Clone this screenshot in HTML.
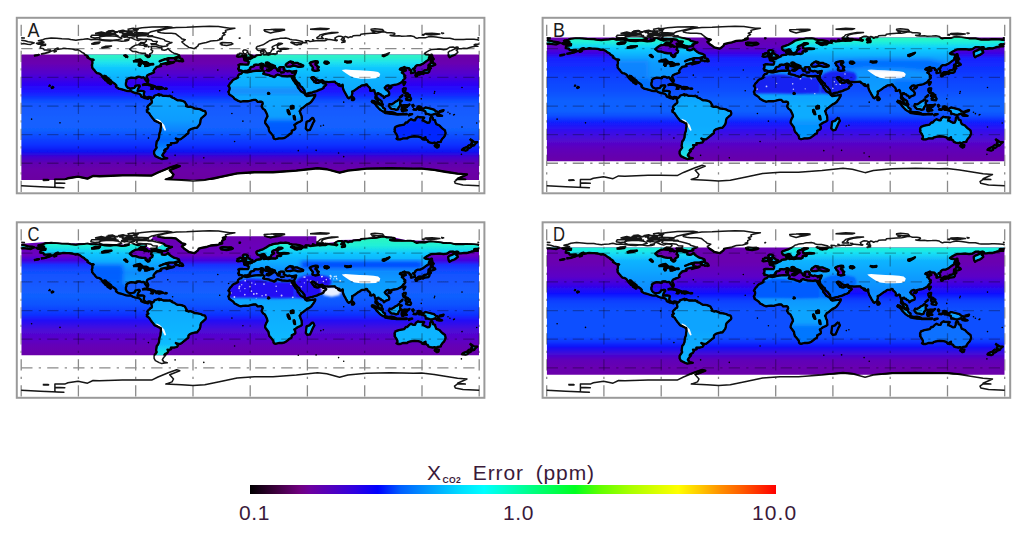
<!DOCTYPE html>
<html><head><meta charset="utf-8"><style>
html,body{margin:0;padding:0;background:#fff;width:1024px;height:539px;overflow:hidden}
svg{position:absolute;left:0;top:0}
.cb{position:absolute;left:250px;top:485px;width:526px;height:8.6px;background:linear-gradient(to right,#000000 0.0%,#3c003c 4.9%,#700080 9.5%,#6c00a0 11.5%,#5000c0 15.7%,#3000e0 19.8%,#0000ff 24.3%,#0060ff 28.7%,#00a0ff 34.4%,#00e0ff 40.3%,#00ffff 44.5%,#00ffc0 49.2%,#00ff80 53.8%,#00ff20 61.8%,#60ff00 66.5%,#a8ff00 72.2%,#e0ff00 78.0%,#ffff00 81.4%,#ffc800 85.6%,#ff9000 89.4%,#ff6000 93.2%,#ff3000 96.6%,#ff0000 100.0%)}
.t{position:absolute;font-family:"Liberation Sans",sans-serif;color:#3a1a3a;font-size:21px;line-height:1}
</style></head><body>
<svg width="1024" height="539" viewBox="0 0 1024 539"><defs><path id="land" d="M19.7,33.9 L24.2,32.9 L28.0,31.7 L29.3,29.9 L26.7,30.0 L22.9,30.0 L22.3,28.6 L19.1,28.0 L19.1,27.2 L19.7,25.8 L24.2,25.2 L24.4,24.1 L21.6,24.3 L17.2,24.3 L15.3,23.3 L19.7,22.4 L21.6,22.7 L22.9,22.1 L20.4,21.2 L17.2,20.7 L21.6,19.7 L24.2,18.6 L29.9,17.9 L35.6,18.3 L40.7,18.8 L47.1,19.0 L49.6,19.5 L54.7,20.1 L57.9,19.6 L62.3,19.3 L66.2,18.6 L70.0,19.6 L75.1,19.3 L80.1,20.1 L84.0,20.7 L89.1,21.0 L94.1,20.2 L100.5,21.2 L104.3,21.0 L106.9,20.5 L108.8,17.4 L110.7,18.1 L113.9,19.6 L117.0,20.5 L120.2,19.3 L124.7,19.6 L125.3,21.0 L123.4,22.6 L119.6,22.4 L117.0,24.8 L113.9,25.3 L110.7,27.2 L108.6,29.1 L109.4,29.9 L111.3,31.4 L114.5,31.5 L117.7,32.7 L120.9,33.2 L124.3,33.3 L124.4,35.3 L126.6,37.0 L127.9,36.8 L128.7,35.8 L128.5,33.9 L131.0,32.5 L131.5,30.6 L129.8,29.6 L130.4,28.2 L129.8,26.5 L134.9,26.5 L138.0,27.5 L140.6,27.7 L140.6,29.8 L143.1,30.3 L145.0,29.8 L146.9,28.4 L148.2,30.1 L150.8,32.0 L152.7,33.1 L155.8,33.9 L157.8,34.9 L158.1,36.1 L156.5,36.8 L152.7,38.0 L147.6,38.0 L144.4,39.0 L141.2,40.1 L138.4,41.3 L139.9,40.6 L143.8,39.1 L147.2,39.3 L146.3,40.1 L146.9,41.5 L150.1,42.2 L151.4,42.4 L152.7,41.8 L152.9,42.1 L151.4,42.8 L148.2,43.5 L145.4,44.4 L144.8,43.5 L146.9,42.7 L143.8,43.3 L141.2,43.9 L139.7,44.2 L139.1,45.3 L139.9,46.0 L138.0,46.4 L135.5,46.9 L134.9,47.3 L134.7,48.0 L133.6,48.8 L132.6,50.3 L132.3,50.7 L132.9,52.2 L131.7,52.9 L129.9,53.6 L128.2,54.2 L126.2,55.2 L125.4,56.8 L126.5,58.9 L127.1,60.4 L126.7,61.9 L125.8,61.9 L124.9,60.6 L123.8,59.2 L123.4,58.1 L122.1,57.2 L120.4,57.6 L119.0,56.9 L117.0,56.7 L115.3,57.0 L115.3,58.1 L114.2,58.2 L112.6,57.8 L110.0,57.6 L108.4,58.0 L106.2,59.0 L105.2,60.0 L105.3,61.3 L104.7,63.0 L104.7,64.9 L105.6,66.7 L106.5,67.6 L108.8,68.6 L111.6,68.2 L113.2,67.8 L114.0,66.7 L114.1,65.9 L116.4,65.4 L118.3,65.4 L118.6,66.3 L117.7,67.5 L117.0,68.5 L116.7,69.4 L116.3,70.9 L117.7,70.9 L120.2,70.8 L122.1,71.0 L123.2,71.6 L122.8,73.1 L122.5,75.0 L123.0,75.9 L124.7,77.2 L125.9,77.5 L127.7,76.8 L129.1,77.0 L130.5,77.6 L129.8,78.3 L129.3,77.9 L127.9,77.5 L126.7,78.8 L125.1,78.2 L123.4,78.0 L120.0,76.5 L119.8,75.3 L118.2,73.7 L116.4,73.3 L113.2,72.7 L111.7,72.1 L109.5,70.8 L107.5,71.0 L105.0,70.7 L102.4,69.9 L99.7,69.1 L97.3,68.5 L95.0,66.9 L94.7,66.3 L95.2,65.4 L94.1,64.2 L91.9,62.6 L89.8,61.3 L89.9,60.6 L88.3,59.4 L87.1,58.5 L85.7,57.5 L84.6,56.1 L83.1,55.7 L82.9,56.8 L84.6,58.3 L85.5,59.2 L86.8,60.6 L87.8,62.1 L88.7,62.8 L89.7,63.8 L89.1,64.1 L87.1,62.6 L86.3,62.3 L86.1,61.1 L84.0,60.1 L83.6,59.3 L82.7,58.6 L81.4,57.0 L80.7,55.9 L79.9,54.7 L78.4,53.7 L77.4,53.3 L75.6,53.0 L73.9,51.1 L73.2,50.0 L72.5,49.5 L71.5,48.2 L70.9,47.5 L71.0,45.8 L70.6,45.1 L71.2,43.5 L71.2,41.8 L71.1,41.1 L70.4,39.7 L72.5,39.9 L71.9,39.5 L69.3,39.2 L68.1,38.4 L66.2,37.4 L66.8,36.8 L66.2,36.0 L63.6,34.4 L63.0,33.4 L61.1,32.5 L59.2,31.0 L56.6,29.6 L54.1,29.9 L51.1,28.9 L47.7,28.6 L45.2,28.5 L42.6,28.2 L40.7,28.6 L38.8,28.9 L35.9,29.4 L36.9,28.0 L35.0,28.5 L33.7,29.4 L32.8,30.4 L30.3,31.1 L27.4,32.4 L25.4,32.9 L22.9,33.4 L19.7,33.9 Z M130.7,77.7 L131.4,78.0 L132.8,76.9 L133.2,75.7 L134.6,75.2 L136.1,74.8 L137.7,74.1 L138.4,74.7 L138.0,75.5 L139.9,74.6 L140.2,75.1 L142.2,75.9 L144.8,75.8 L147.2,76.0 L148.8,75.7 L149.5,76.4 L151.4,77.7 L152.7,78.0 L154.6,79.3 L156.2,80.2 L158.4,80.3 L160.3,80.5 L162.2,81.2 L163.7,82.0 L164.9,84.2 L165.5,85.0 L164.9,86.0 L167.3,86.9 L169.2,86.5 L172.4,87.7 L173.0,88.4 L176.2,88.7 L179.4,89.4 L181.3,90.5 L183.8,91.0 L184.5,92.6 L184.6,93.8 L184.1,94.8 L182.6,96.0 L181.3,97.2 L180.0,98.4 L179.4,99.8 L179.1,102.4 L178.5,104.3 L177.2,106.0 L175.7,107.8 L173.7,107.9 L172.1,108.3 L169.8,109.0 L167.9,110.1 L167.2,111.3 L167.2,113.2 L165.6,114.1 L164.1,115.6 L162.2,117.1 L160.9,118.1 L159.2,119.3 L157.5,119.3 L155.5,118.9 L154.6,118.4 L156.1,119.9 L156.9,120.8 L155.7,122.4 L152.9,123.0 L149.7,123.0 L149.9,124.6 L147.8,125.2 L146.3,125.1 L147.2,126.4 L146.1,128.4 L143.8,129.5 L143.0,130.5 L144.3,130.9 L142.7,132.7 L141.7,134.1 L141.1,135.2 L142.0,135.9 L141.7,136.2 L143.1,137.5 L146.1,138.2 L143.5,138.5 L140.6,139.0 L138.0,138.0 L134.2,136.1 L132.9,133.7 L132.9,131.3 L134.2,129.4 L135.5,127.5 L134.9,125.9 L135.2,123.7 L135.5,121.5 L136.8,119.9 L137.8,117.5 L138.0,115.1 L138.3,113.2 L139.2,110.8 L139.4,108.4 L139.8,106.4 L139.6,103.5 L138.2,102.9 L136.1,101.8 L133.3,100.6 L132.1,98.9 L130.8,97.4 L129.1,95.0 L127.9,93.1 L125.7,91.7 L126.1,90.7 L125.6,90.1 L127.2,89.0 L126.5,88.1 L126.1,86.9 L127.2,85.5 L128.5,84.7 L128.7,84.0 L130.3,83.1 L130.7,82.1 L130.4,80.2 L129.9,79.1 L130.7,77.7 Z M221.5,51.8 L220.2,53.5 L218.2,54.1 L216.9,55.4 L216.5,56.9 L216.8,57.4 L215.0,58.5 L212.7,59.4 L211.2,60.6 L210.2,62.1 L208.8,63.3 L208.0,64.9 L207.2,66.0 L208.3,67.2 L208.5,68.6 L208.0,70.5 L207.1,71.8 L207.8,73.0 L207.8,74.1 L209.3,75.2 L210.3,75.8 L212.1,77.1 L213.4,78.9 L215.0,79.6 L217.2,80.9 L219.5,81.7 L221.6,81.2 L224.5,81.1 L227.1,81.2 L230.3,80.3 L232.4,79.9 L234.7,79.9 L236.5,81.8 L237.9,81.7 L239.8,81.5 L241.2,82.3 L241.5,83.8 L240.8,85.0 L240.4,86.4 L241.7,88.6 L243.6,89.8 L244.6,91.7 L245.8,94.2 L246.3,96.3 L244.9,98.8 L244.0,101.2 L243.9,102.8 L245.3,104.7 L247.3,107.4 L247.6,109.5 L248.3,111.7 L249.9,113.3 L251.3,115.1 L252.2,116.3 L252.3,117.9 L252.9,118.7 L254.4,119.2 L257.6,118.4 L260.8,118.4 L262.7,118.1 L264.6,117.1 L266.5,115.8 L268.4,114.1 L270.2,113.2 L270.7,111.3 L270.5,110.7 L273.5,109.3 L274.2,108.4 L274.0,106.5 L273.1,104.9 L274.5,104.0 L276.3,102.7 L279.3,101.4 L280.7,100.3 L280.5,97.9 L280.4,96.0 L279.3,93.6 L279.0,92.2 L278.4,91.2 L279.4,90.0 L280.1,88.5 L281.8,87.6 L283.7,86.0 L285.6,84.5 L288.2,83.3 L290.1,81.7 L291.7,79.5 L293.2,77.2 L294.0,75.9 L294.1,74.7 L292.6,75.0 L290.7,75.3 L287.5,75.7 L285.6,76.0 L284.3,75.1 L284.0,74.7 L283.1,73.1 L281.4,72.1 L279.6,71.1 L278.9,70.2 L278.0,68.8 L276.6,67.3 L276.3,65.9 L275.8,64.9 L274.3,63.5 L273.5,62.1 L272.3,60.5 L271.6,59.4 L270.5,57.4 L271.6,58.7 L272.6,59.3 L273.4,57.8 L272.6,56.1 L270.3,56.2 L268.4,55.8 L266.5,56.3 L263.3,56.0 L260.8,55.8 L258.5,55.2 L256.4,54.5 L254.4,55.4 L254.4,56.3 L253.2,57.0 L251.3,56.3 L248.7,55.6 L248.1,55.0 L245.5,54.5 L243.6,54.2 L242.0,53.7 L243.0,52.0 L242.4,50.8 L241.5,50.3 L239.8,50.7 L237.3,50.5 L234.7,50.7 L232.2,51.0 L229.6,51.6 L227.5,52.1 L226.2,52.4 L224.4,52.2 L222.4,51.8 L221.5,51.8 Z M221.9,51.6 L221.0,50.8 L219.5,50.4 L217.7,50.6 L217.8,49.2 L216.9,48.9 L217.7,47.6 L217.8,45.8 L217.2,44.9 L218.8,44.2 L222.0,44.4 L224.5,44.5 L226.7,44.5 L227.3,43.5 L227.5,41.8 L226.2,41.0 L225.2,40.6 L223.3,40.2 L223.0,39.6 L225.2,39.3 L227.0,39.4 L226.6,38.5 L227.5,38.8 L229.3,38.7 L230.9,38.0 L231.3,37.3 L232.8,37.0 L234.1,36.4 L235.0,35.3 L237.3,34.9 L239.2,34.8 L240.1,34.4 L239.9,33.0 L239.3,32.0 L239.9,31.4 L242.4,30.8 L242.1,32.2 L242.9,32.1 L241.7,33.2 L241.6,33.6 L242.7,34.4 L244.9,34.0 L247.1,34.5 L250.0,33.9 L252.7,33.7 L254.2,34.0 L256.0,33.2 L255.8,31.7 L257.0,31.0 L258.9,31.5 L260.0,31.0 L259.5,30.2 L258.9,29.4 L262.7,29.1 L264.6,29.1 L267.4,28.7 L265.9,28.5 L262.7,28.3 L258.3,28.7 L256.2,28.0 L256.4,26.9 L256.0,25.8 L257.6,25.0 L260.2,24.0 L261.3,23.6 L259.8,23.1 L257.4,23.1 L256.1,24.3 L254.4,25.1 L252.7,25.8 L251.3,26.5 L250.9,27.4 L251.1,28.1 L252.9,28.6 L252.2,29.3 L250.4,30.1 L250.0,31.3 L249.2,32.4 L247.1,33.0 L245.4,33.0 L245.0,32.3 L244.1,31.0 L243.2,29.7 L242.2,29.4 L241.1,29.7 L239.2,30.5 L237.3,30.5 L236.1,29.8 L235.4,28.6 L235.2,27.2 L236.1,26.5 L237.9,26.0 L239.8,25.3 L241.7,24.7 L243.0,24.0 L244.9,22.9 L246.8,21.7 L248.1,20.7 L250.0,20.2 L251.9,19.5 L254.4,19.1 L257.0,18.8 L259.5,18.1 L262.1,18.2 L264.6,18.0 L267.8,18.6 L268.4,19.3 L271.0,19.8 L274.8,20.0 L278.0,20.6 L281.2,21.4 L281.2,22.5 L279.3,22.9 L277.3,22.8 L273.5,22.6 L271.6,22.3 L270.7,22.0 L269.7,22.4 L272.9,23.9 L273.5,24.5 L275.8,25.0 L277.3,24.3 L279.9,24.4 L280.5,23.7 L282.4,22.4 L285.0,22.8 L285.2,21.3 L284.3,20.7 L287.5,20.8 L288.8,21.4 L292.6,21.0 L297.1,20.4 L298.3,20.8 L301.5,20.5 L304.1,20.6 L305.3,20.1 L306.0,19.3 L310.4,19.8 L313.0,20.1 L315.5,20.7 L316.1,20.1 L314.0,19.6 L314.2,18.6 L313.6,18.0 L316.1,16.6 L317.4,16.2 L320.0,16.3 L321.6,17.0 L321.2,18.1 L320.0,19.6 L321.2,20.2 L322.5,20.9 L321.9,22.0 L320.6,22.4 L323.8,22.0 L323.8,20.5 L322.5,19.6 L323.1,18.6 L321.9,17.7 L324.2,16.4 L325.7,16.9 L327.0,17.7 L328.9,16.8 L330.8,17.0 L332.0,15.7 L335.9,15.5 L339.0,15.4 L339.7,14.2 L343.5,13.8 L349.9,13.3 L354.9,13.1 L357.5,12.6 L361.7,11.7 L363.9,12.0 L365.8,12.7 L370.2,12.7 L373.4,13.2 L373.7,14.0 L371.5,15.3 L368.9,15.3 L370.2,15.7 L373.4,15.9 L377.8,15.7 L380.4,16.1 L385.5,16.0 L389.3,15.8 L392.5,16.4 L393.8,17.4 L395.7,18.3 L397.6,17.7 L400.8,17.6 L403.9,17.8 L407.1,16.8 L409.7,16.5 L414.7,16.9 L419.8,17.6 L422.4,18.2 L428.7,18.1 L432.6,19.1 L434.5,19.5 L437.6,19.4 L442.1,19.5 L445.3,19.1 L447.8,19.2 L452.9,19.3 L456.1,19.7 L458.0,20.2 L458.0,23.9 L456.1,24.3 L454.2,24.2 L452.9,24.8 L456.7,26.3 L454.2,26.3 L450.4,26.9 L447.8,27.7 L445.9,28.4 L442.7,28.2 L440.2,28.7 L438.3,28.8 L436.8,28.8 L435.1,30.4 L436.1,30.8 L436.6,32.3 L435.1,33.6 L433.2,34.9 L430.6,35.8 L428.4,37.2 L427.5,35.8 L427.2,33.9 L427.0,32.2 L428.5,31.0 L430.0,30.6 L432.6,29.3 L434.8,28.4 L437.0,27.2 L435.7,27.0 L433.2,27.6 L431.9,27.0 L428.7,27.1 L425.6,29.1 L422.4,29.6 L418.6,29.0 L414.1,29.2 L410.3,29.4 L407.7,30.6 L405.2,32.0 L403.3,33.4 L404.6,34.2 L407.1,34.4 L408.9,35.1 L408.6,36.1 L407.7,37.7 L407.5,39.6 L405.2,41.1 L402.0,43.5 L398.8,45.1 L396.3,45.1 L395.2,45.6 L394.0,46.8 L393.9,47.8 L391.8,48.7 L392.5,49.4 L393.6,50.6 L393.6,52.0 L392.5,52.5 L389.9,53.1 L389.7,52.0 L390.2,50.7 L389.7,49.9 L388.3,49.9 L388.4,48.9 L387.6,48.0 L384.8,47.8 L383.4,48.7 L384.0,47.6 L383.3,46.9 L381.0,47.9 L379.1,48.6 L378.6,49.3 L380.0,49.9 L380.6,50.5 L382.6,49.9 L384.7,50.4 L382.7,51.2 L380.6,52.6 L382.0,53.2 L382.8,54.8 L384.1,55.7 L383.2,56.6 L384.2,57.5 L383.4,58.7 L382.0,60.0 L381.0,61.5 L379.9,62.5 L378.1,63.4 L376.5,64.2 L374.3,64.7 L373.0,64.9 L371.1,65.3 L369.6,65.8 L369.2,66.6 L368.6,65.9 L367.0,65.3 L365.1,65.9 L364.5,66.6 L363.5,67.8 L364.6,69.3 L366.1,70.4 L367.4,71.6 L368.1,73.1 L367.9,74.9 L366.4,75.6 L364.7,76.1 L362.7,77.7 L362.3,76.6 L361.7,75.9 L360.0,75.3 L359.5,74.3 L357.4,73.8 L357.4,73.1 L356.2,73.2 L355.2,75.4 L355.3,77.1 L356.5,78.0 L356.9,79.1 L357.9,79.4 L359.0,80.0 L360.5,81.3 L360.5,82.7 L361.2,83.7 L361.7,84.6 L360.7,84.7 L359.0,83.8 L357.9,83.2 L357.0,81.9 L356.5,80.7 L355.8,79.6 L354.3,78.3 L354.2,77.1 L354.6,75.8 L354.3,74.4 L353.9,73.0 L353.4,71.7 L353.2,70.6 L352.4,69.9 L350.4,70.9 L349.0,70.7 L349.2,69.2 L348.6,67.8 L347.7,66.9 L346.4,65.9 L345.9,64.5 L344.8,64.3 L343.9,65.0 L342.2,65.2 L341.0,65.3 L339.6,65.9 L339.0,66.7 L337.1,67.5 L335.1,69.0 L333.6,70.1 L332.4,70.9 L330.9,71.5 L331.2,73.2 L330.7,75.0 L330.5,76.1 L329.5,77.1 L328.5,77.5 L327.6,78.2 L326.5,77.5 L325.7,75.9 L324.9,74.7 L323.9,72.7 L322.9,71.1 L322.1,69.2 L321.6,67.5 L321.6,65.9 L321.4,64.7 L319.6,66.1 L318.1,65.7 L316.8,64.7 L318.3,64.2 L316.5,63.7 L314.7,63.1 L313.7,61.7 L310.4,61.8 L307.2,62.0 L303.4,61.5 L301.9,61.2 L301.3,60.1 L299.6,60.4 L297.7,60.5 L295.7,59.6 L294.3,58.7 L292.7,57.2 L291.2,57.0 L290.1,57.7 L291.1,59.2 L292.0,60.3 L292.7,61.0 L293.2,62.1 L293.9,61.0 L294.6,61.8 L294.6,62.7 L296.9,62.9 L299.0,62.1 L300.4,61.0 L300.8,62.2 L302.0,63.2 L303.7,63.4 L305.1,64.5 L303.9,65.8 L302.5,66.7 L302.4,67.9 L300.6,68.9 L299.4,69.4 L298.0,69.8 L295.4,71.1 L292.1,71.9 L291.0,72.6 L289.9,72.6 L287.0,73.2 L285.5,73.8 L284.3,73.9 L284.0,73.2 L283.5,71.8 L283.2,70.2 L282.1,69.0 L281.0,67.3 L279.6,66.5 L278.7,65.5 L278.0,63.4 L276.7,62.7 L275.4,61.2 L274.3,59.8 L273.3,59.1 L273.4,57.8 L272.9,55.9 L273.5,54.6 L274.2,53.5 L274.7,52.1 L275.1,50.9 L274.2,51.0 L272.3,51.4 L270.3,51.5 L267.9,50.9 L266.5,51.4 L264.1,50.6 L262.5,49.5 L263.1,48.4 L262.3,47.8 L262.8,47.5 L262.1,47.0 L259.5,47.0 L258.3,47.4 L257.8,47.8 L258.6,48.5 L258.1,49.5 L258.5,49.9 L258.0,51.1 L256.6,50.8 L256.0,50.0 L256.1,49.3 L255.3,48.7 L254.7,48.1 L253.7,47.4 L253.8,46.0 L252.5,45.4 L251.3,44.9 L249.4,44.4 L248.3,43.7 L247.4,42.8 L246.4,42.4 L244.8,42.6 L244.6,43.4 L245.0,43.8 L246.3,44.4 L246.9,45.4 L248.2,45.9 L249.4,46.4 L251.3,46.9 L252.5,47.7 L252.3,47.9 L250.8,47.3 L250.5,47.4 L250.0,48.1 L250.8,48.8 L249.5,49.8 L249.0,49.5 L249.2,48.9 L249.4,48.0 L248.7,47.6 L248.0,47.6 L247.2,47.0 L246.3,46.6 L245.0,46.3 L243.2,45.5 L242.4,45.0 L242.0,44.0 L240.3,43.5 L238.9,44.1 L237.3,44.8 L234.9,44.5 L233.1,44.8 L233.1,45.9 L231.7,46.6 L230.0,46.8 L229.0,47.8 L228.6,48.4 L229.1,49.0 L228.1,50.0 L227.2,50.1 L226.3,50.9 L223.4,50.9 L222.6,51.3 L221.9,51.6 Z M373.4,107.0 L374.3,106.8 L377.5,105.6 L380.4,105.0 L382.9,104.6 L384.6,102.4 L386.1,102.5 L388.0,100.3 L389.9,99.1 L392.2,100.3 L393.9,100.2 L394.6,98.3 L396.7,96.7 L398.2,97.2 L401.8,97.4 L403.0,97.6 L401.9,98.8 L401.4,100.3 L403.3,101.1 L406.2,102.7 L408.1,102.6 L409.0,100.3 L409.1,98.0 L410.3,96.2 L411.6,97.9 L411.9,99.6 L413.9,100.2 L414.1,101.7 L415.1,104.1 L418.3,105.4 L419.8,107.1 L421.1,108.4 L423.8,110.4 L424.4,113.2 L423.6,115.6 L422.8,117.0 L421.1,118.7 L419.8,120.8 L419.7,121.8 L416.7,122.2 L415.1,123.3 L413.2,122.5 L411.6,123.0 L409.0,122.5 L407.1,121.8 L406.5,120.3 L405.2,119.9 L404.6,118.9 L403.9,119.4 L403.0,119.6 L404.3,118.2 L404.3,117.1 L402.0,118.4 L401.4,119.3 L399.7,117.3 L396.9,116.5 L393.1,116.2 L389.3,116.8 L386.8,117.5 L386.1,118.4 L381.7,118.4 L379.1,119.4 L376.6,119.4 L375.3,118.7 L376.2,117.8 L376.2,116.2 L375.2,114.1 L374.3,112.9 L373.3,111.3 L373.8,110.3 L373.3,109.3 L373.8,107.9 L373.4,107.0 Z M221.7,38.1 L225.2,37.5 L229.0,37.4 L230.8,37.0 L231.2,35.6 L229.4,35.0 L228.7,34.4 L227.5,33.8 L227.0,32.9 L225.7,32.2 L226.7,31.0 L224.8,30.0 L222.6,30.0 L221.6,31.0 L221.9,32.1 L222.4,32.9 L222.9,33.6 L224.9,33.6 L224.7,34.2 L225.2,35.0 L223.1,35.0 L223.7,36.0 L222.4,36.5 L224.9,36.9 L223.3,37.1 L221.7,38.1 Z M221.4,36.3 L221.1,35.0 L221.4,33.9 L219.7,33.1 L218.2,33.3 L218.2,34.1 L216.3,34.2 L216.5,35.3 L215.8,36.3 L216.9,36.7 L218.8,36.5 L221.1,36.1 L221.4,36.3 Z M198.5,23.4 L201.0,22.5 L206.1,22.8 L209.9,22.7 L211.7,23.8 L210.6,24.4 L205.5,25.4 L201.6,25.0 L200.1,24.7 L201.0,24.2 L198.5,23.4 Z M291.7,97.4 L293.2,100.8 L292.0,102.7 L290.1,107.0 L288.8,109.8 L286.2,110.3 L284.6,108.4 L285.0,105.0 L285.4,101.7 L288.2,100.8 L290.1,98.8 L291.7,97.4 Z M395.5,53.5 L397.6,52.0 L401.4,52.0 L403.0,50.4 L405.2,50.1 L406.9,49.2 L407.1,47.8 L407.4,46.5 L409.0,46.5 L409.1,47.8 L409.7,48.2 L408.4,49.4 L408.3,50.6 L408.0,51.6 L407.1,52.5 L405.8,52.7 L403.3,52.9 L401.8,54.0 L400.8,53.0 L398.8,53.2 L396.9,53.6 L395.5,53.5 Z M393.9,54.2 L395.4,53.5 L396.7,54.2 L396.0,56.0 L394.6,56.2 L393.9,54.2 Z M397.3,53.6 L399.5,53.2 L400.4,53.7 L398.2,54.6 L397.3,53.6 Z M407.1,46.3 L408.4,46.0 L411.2,45.8 L414.1,44.6 L413.5,43.6 L409.7,42.5 L409.1,43.5 L408.9,44.7 L407.5,44.7 L407.1,46.3 Z M409.7,42.0 L411.6,41.5 L410.9,39.2 L412.6,39.2 L411.3,37.2 L410.9,35.3 L410.7,34.1 L409.9,34.1 L409.3,35.8 L409.5,38.2 L409.7,40.1 L409.5,41.4 L409.7,42.0 Z M381.8,64.0 L382.9,62.1 L384.2,62.1 L383.6,63.5 L382.7,64.9 L381.8,64.0 Z M367.2,67.6 L369.3,66.8 L370.2,67.2 L368.9,68.5 L367.3,68.3 L367.2,67.6 Z M330.5,78.3 L331.0,76.6 L332.4,77.7 L333.1,79.0 L332.3,80.0 L330.8,80.0 L330.5,78.3 Z M381.7,68.3 L384.5,68.3 L384.2,70.2 L383.7,71.1 L384.2,72.6 L386.8,73.5 L385.5,73.5 L382.9,72.8 L382.3,72.1 L381.7,70.7 L381.7,68.3 Z M384.2,79.3 L386.1,77.8 L388.7,76.6 L389.9,78.8 L389.3,80.2 L386.8,80.0 L384.2,79.3 Z M384.2,74.7 L386.1,74.0 L388.7,75.0 L388.0,76.4 L385.5,76.9 L384.2,75.9 L384.2,74.7 Z M378.1,77.9 L381.0,75.9 L381.3,75.1 L379.8,76.4 L378.1,77.9 Z M350.2,80.6 L353.0,81.0 L356.6,83.6 L358.1,84.3 L361.1,86.0 L361.9,87.7 L363.9,88.9 L363.6,91.5 L361.9,91.6 L359.1,89.8 L357.2,87.9 L355.2,85.8 L354.3,84.3 L352.7,82.9 L351.0,82.1 L350.2,80.6 Z M362.8,92.4 L363.9,91.6 L367.0,92.2 L370.2,92.1 L372.4,92.5 L374.7,93.4 L374.5,94.3 L370.2,93.9 L367.0,93.4 L364.5,93.0 L362.8,92.4 Z M367.7,84.5 L368.4,84.0 L370.2,84.4 L372.8,82.9 L374.4,81.6 L375.9,81.0 L377.6,79.4 L378.7,80.3 L380.6,80.9 L379.0,81.9 L379.0,84.2 L380.4,85.1 L378.5,85.9 L377.3,87.4 L376.8,89.3 L374.8,89.8 L372.8,89.0 L370.2,88.8 L369.1,87.9 L367.8,86.3 L367.7,84.5 Z M380.1,88.6 L380.9,91.2 L382.2,91.3 L382.4,88.8 L383.6,90.5 L385.7,90.2 L384.2,88.8 L383.3,87.8 L385.2,86.7 L385.9,86.9 L383.6,86.7 L382.3,85.5 L383.6,85.0 L386.8,85.1 L388.3,84.4 L387.1,85.7 L381.7,85.4 L381.4,86.7 L380.1,88.6 Z M395.7,86.9 L397.6,86.3 L399.5,86.8 L401.4,89.1 L404.3,87.4 L408.4,88.4 L412.8,89.6 L414.7,91.2 L416.7,91.8 L417.0,93.6 L418.9,95.0 L420.9,95.8 L418.6,95.9 L416.0,95.6 L414.5,93.6 L411.6,94.5 L410.3,94.8 L408.4,94.6 L405.8,93.7 L404.6,94.0 L404.1,91.2 L401.3,90.2 L398.8,89.6 L398.0,89.8 L396.9,88.6 L398.8,88.2 L396.0,87.4 L395.7,86.9 Z M386.8,95.6 L388.3,94.2 L391.0,94.0 L388.0,95.1 L386.8,95.6 Z M374.7,93.8 L376.6,94.0 L380.4,94.0 L385.5,93.9 L385.2,94.4 L380.4,94.4 L376.6,94.5 L374.7,94.4 L374.7,93.8 Z M391.2,84.2 L392.5,85.5 L391.8,86.7 L391.2,85.5 L391.2,84.2 Z M391.8,89.0 L395.4,89.3 L395.0,89.7 L392.2,89.5 L391.8,89.0 Z M417.9,91.2 L422.4,90.0 L421.7,91.2 L418.6,91.9 L417.9,91.2 Z M413.1,124.8 L417.7,125.0 L417.3,127.0 L415.8,127.6 L413.9,126.3 L413.1,124.8 Z M448.6,118.9 L451.0,120.5 L452.8,121.8 L456.1,122.0 L454.2,123.5 L452.9,125.4 L451.6,125.7 L451.1,124.0 L450.1,123.5 L451.1,121.7 L448.6,118.9 Z M448.7,124.6 L450.7,125.4 L449.7,127.0 L448.5,127.8 L446.5,128.4 L446.3,129.8 L444.4,130.5 L440.8,129.9 L441.5,128.9 L443.1,128.0 L446.0,126.9 L447.2,125.6 L448.7,124.6 Z M120.9,65.0 L123.4,64.1 L125.9,63.9 L128.5,64.5 L130.9,65.3 L132.8,65.9 L134.6,66.7 L132.8,66.9 L130.1,66.9 L130.8,66.3 L129.0,65.3 L126.6,64.9 L124.7,64.6 L122.8,64.7 L120.9,65.0 Z M134.2,68.4 L136.4,66.9 L139.9,67.1 L142.1,68.2 L139.9,68.6 L138.0,69.1 L136.8,68.6 L134.2,68.4 Z M129.4,68.4 L131.9,68.7 L131.3,68.9 L129.5,68.6 L129.4,68.4 Z M143.5,68.3 L145.5,68.5 L145.3,68.8 L143.5,68.8 L143.5,68.3 Z M153.6,40.5 L154.6,39.2 L155.8,37.7 L158.4,36.7 L158.4,38.2 L160.9,38.9 L161.6,40.1 L162.0,41.1 L160.9,41.4 L159.7,40.8 L158.0,41.2 L157.4,40.5 L153.6,40.5 Z M32.4,31.5 L35.0,30.6 L35.1,31.2 L33.1,31.9 L32.4,31.5 Z M244.8,49.7 L246.2,49.5 L248.8,49.4 L248.2,50.6 L247.2,50.8 L244.9,50.0 L244.8,49.7 Z M239.7,48.7 L241.2,48.5 L241.5,46.9 L240.7,46.5 L239.4,46.9 L239.7,48.7 Z M239.9,46.3 L241.0,46.4 L241.1,44.9 L239.9,45.5 L239.9,46.3 Z M258.9,52.2 L262.5,52.3 L260.2,52.5 L258.9,52.2 Z M270.1,52.8 L272.3,52.5 L273.0,51.9 L271.0,52.1 L270.1,52.8 Z M0.0,20.2 L3.8,20.7 L7.0,21.7 L10.8,22.1 L13.1,22.8 L11.4,23.4 L9.5,24.4 L6.4,24.1 L2.5,23.5 L0.0,23.9 Z M30.4,66.6 L32.1,67.3 L30.7,67.9 L30.4,67.1 L30.4,66.6 Z M27.6,65.3 L28.5,65.6 L27.9,65.6 L27.6,65.3 Z M12.7,35.6 L15.3,34.9 L17.8,34.5 L16.5,35.0 L12.7,35.6 Z M127.2,15.6 L131.0,16.5 L136.1,17.6 L139.9,18.6 L143.1,19.6 L143.8,20.7 L148.8,22.1 L150.8,22.4 L147.6,23.7 L145.7,24.6 L146.6,25.4 L145.7,26.0 L141.9,26.5 L138.0,25.6 L134.9,24.4 L130.4,24.4 L129.8,23.6 L134.9,23.5 L135.5,22.4 L136.1,21.5 L131.7,21.2 L129.8,19.6 L125.9,19.1 L122.1,19.1 L116.4,18.6 L115.1,17.7 L117.0,15.9 L120.9,15.8 L127.2,15.6 Z M77.6,17.7 L79.5,16.4 L85.2,15.9 L91.6,16.0 L95.4,16.3 L99.2,17.5 L100.5,18.6 L96.1,19.8 L91.6,20.2 L85.2,20.0 L81.4,19.8 L78.9,18.8 L77.6,17.7 Z M69.3,17.2 L70.6,15.1 L76.3,15.0 L81.4,15.9 L77.6,17.4 L73.8,18.0 L69.3,17.2 Z M114.5,12.9 L115.8,11.3 L112.0,9.1 L120.9,7.8 L131.0,7.0 L146.3,6.7 L150.8,7.3 L142.5,8.8 L137.4,10.0 L129.8,11.7 L127.2,13.1 L117.0,13.1 L114.5,12.9 Z M112.0,14.3 L113.2,12.7 L120.9,12.8 L127.2,13.2 L127.2,14.2 L120.9,14.8 L112.0,14.3 Z M106.9,17.2 L103.7,16.2 L105.6,15.3 L110.7,15.2 L114.1,15.5 L113.2,16.7 L108.8,17.4 L106.9,17.2 Z M80.1,13.4 L94.1,13.4 L94.8,14.3 L86.5,14.9 L80.1,14.6 L80.1,13.4 Z M117.0,24.4 L120.9,23.1 L123.4,24.1 L125.9,25.0 L122.1,25.3 L118.3,25.0 L117.0,24.4 Z M108.1,11.0 L106.9,9.1 L112.0,8.3 L117.0,9.5 L113.2,11.0 L108.1,11.0 Z M100.5,13.8 L105.6,12.9 L106.9,14.0 L104.3,14.4 L100.5,13.8 Z M73.8,13.4 L80.1,11.9 L84.0,12.9 L78.9,13.8 L73.8,13.4 Z M243.0,11.0 L249.4,12.9 L253.2,11.9 L258.3,11.2 L263.3,10.0 L254.4,9.1 L249.4,9.5 L243.0,9.8 L243.0,11.0 Z M295.2,17.9 L296.4,18.4 L299.0,18.5 L302.2,18.4 L300.2,16.7 L302.2,14.8 L306.6,13.7 L313.0,12.9 L316.8,12.5 L310.4,12.4 L303.4,13.6 L299.0,14.8 L297.7,16.2 L295.2,17.9 Z M349.9,10.5 L356.2,11.2 L362.6,11.0 L361.3,9.5 L353.7,8.6 L349.9,9.1 L349.9,10.5 Z M403.3,13.8 L407.1,14.8 L413.5,14.6 L418.6,14.0 L410.9,13.2 L404.6,13.4 L403.3,13.8 Z M288.8,9.1 L299.0,8.1 L307.9,8.6 L305.3,9.5 L295.2,9.5 L288.8,9.1 Z M456.2,18.0 L458.0,17.7 L458.0,18.2 L456.2,18.0 Z M0.0,17.7 L3.2,17.9 L0.0,18.2 Z M99.9,16.4 L101.8,15.5 L105.0,15.6 L106.2,16.6 L103.7,17.3 L99.9,16.4 Z M103.0,20.1 L106.9,19.3 L107.5,20.2 L104.6,20.6 L103.0,20.1 Z M106.2,14.3 L110.0,13.7 L111.3,14.4 L108.1,14.7 L106.2,14.3 Z M96.7,11.2 L101.8,10.2 L104.3,10.9 L100.5,11.7 L96.7,11.2 Z M86.5,10.9 L91.6,10.5 L93.5,11.3 L89.1,11.7 L86.5,10.9 Z M85.2,11.7 L90.3,11.6 L89.1,12.5 L85.2,12.3 L85.2,11.7 Z M125.9,15.9 L131.0,15.6 L131.7,16.3 L127.2,16.5 L125.9,15.9 Z M122.8,25.9 L125.9,25.8 L125.3,26.5 L123.4,26.5 L122.8,25.9 Z M124.7,35.3 L126.2,35.1 L125.9,35.5 L124.7,35.3 Z M126.6,26.5 L127.9,26.4 L127.5,26.9 L126.6,26.5 Z M217.5,18.1 L218.9,18.0 L218.6,18.2 L217.5,18.1 Z M290.7,19.6 L292.4,19.9 L291.6,20.2 L290.7,19.6 Z M303.4,18.6 L306.0,18.9 L304.7,19.3 L303.4,18.6 Z M352.4,11.9 L353.7,11.6 L351.1,11.4 L352.4,11.9 Z M419.8,12.9 L422.4,13.2 L421.1,13.6 L419.8,12.9 Z M251.9,10.0 L260.8,9.1 L263.3,9.5 L254.4,10.3 L251.9,10.0 Z M400.8,14.6 L403.3,14.3 L402.7,15.1 L400.8,14.6 Z M21.6,159.9 L26.7,159.8 L27.4,160.3 L22.3,160.4 L21.6,159.9 Z M76.3,13.6 L80.1,13.1 L81.4,13.8 L77.6,14.0 L76.3,13.6 Z M84.0,13.8 L91.6,13.5 L94.1,14.1 L89.1,14.7 L84.0,13.8 Z M98.0,11.9 L101.1,11.6 L101.8,12.1 L98.6,12.4 L98.0,11.9 Z M104.3,11.1 L106.9,10.7 L108.1,11.3 L105.6,11.6 L104.3,11.1 Z M105.6,12.4 L110.7,12.2 L111.3,12.9 L106.9,13.0 L105.6,12.4 Z M92.9,11.8 L96.7,11.7 L96.1,12.2 L93.5,12.3 L92.9,11.8 Z M94.1,15.8 L96.7,15.5 L96.9,16.0 L94.8,16.2 L94.1,15.8 Z M101.8,15.3 L104.3,15.0 L105.0,15.6 L102.4,15.7 L101.8,15.3 Z M112.0,15.5 L115.8,15.1 L117.0,15.9 L113.2,16.0 L112.0,15.5 Z"/><path id="grl" d="M136.1,11.2 L142.5,9.4 L147.6,8.3 L155.2,7.5 L165.4,7.2 L175.6,6.6 L188.3,6.1 L197.2,6.5 L203.6,7.4 L208.6,8.1 L213.7,8.2 L207.4,9.4 L204.2,10.3 L204.8,11.9 L201.6,13.2 L203.8,14.5 L201.0,16.0 L201.0,17.7 L198.5,18.6 L201.0,18.9 L195.9,20.4 L189.6,20.9 L185.1,22.4 L181.3,23.1 L177.5,24.1 L176.8,25.8 L174.5,27.5 L173.0,28.6 L170.5,28.0 L167.6,27.4 L165.6,25.8 L163.5,24.5 L161.8,22.9 L160.7,21.8 L162.8,20.5 L164.1,19.6 L160.3,18.6 L159.7,17.7 L157.8,16.4 L155.8,14.8 L154.6,13.8 L150.1,13.2 L143.8,13.2 L139.9,12.6 L136.8,11.9 L136.1,11.2 Z"/><path id="ant" d="M0.0,165.7 L19.1,166.6 L42.7,167.6 L33.7,167.3 L33.7,162.9 L43.6,163.1 L33.7,162.7 L33.7,159.5 L43.6,159.5 L46.7,158.2 L56.9,156.6 L66.3,158.6 L71.8,155.9 L78.2,156.2 L101.3,155.3 L113.4,155.3 L130.5,155.5 L136.8,152.4 L147.7,147.9 L155.5,145.2 L158.6,146.1 L148.5,150.2 L152.3,154.4 L150.8,157.3 L144.5,159.5 L160.2,160.2 L171.9,160.9 L183.6,160.2 L193.3,158.2 L199.4,156.9 L215.9,153.4 L233.3,152.2 L251.8,152.2 L275.2,150.5 L296.3,148.2 L305.6,149.2 L318.4,152.6 L326.7,150.5 L345.4,148.6 L368.8,148.2 L392.2,148.6 L400.5,148.5 L413.0,149.9 L423.9,151.7 L436.4,153.6 L445.8,154.4 L436.4,158.7 L444.1,159.5 L436.4,159.3 L433.3,161.5 L434.1,163.3 L441.8,164.9 L458.0,165.6 L458.0,171.9 L0.0,171.9 Z"/><path id="water" d="M264.6,46.2 L266.1,46.6 L269.1,46.6 L271.6,45.8 L273.8,45.8 L276.7,46.7 L279.3,46.7 L281.8,46.3 L282.1,45.4 L279.9,44.4 L277.3,43.5 L276.1,42.8 L274.2,42.8 L271.6,43.5 L270.3,42.6 L271.9,42.0 L269.1,41.4 L267.4,42.2 L266.7,42.8 L265.4,43.7 L264.5,44.9 L264.6,46.2 Z M292.0,41.5 L294.5,41.1 L296.4,41.4 L296.7,42.7 L294.3,43.5 L294.3,44.7 L296.0,45.4 L295.8,46.3 L297.6,47.1 L296.4,48.4 L297.6,50.3 L293.9,50.9 L291.3,50.0 L291.2,49.2 L291.8,47.6 L290.7,46.1 L289.4,44.9 L289.4,43.5 L288.5,43.2 L289.4,42.4 L292.0,41.5 Z"/><path id="lakes" d="M111.8,41.4 L115.1,40.1 L119.0,39.4 L121.1,41.2 L119.0,41.6 L114.5,41.4 L111.8,41.4 Z M117.3,45.8 L117.7,43.5 L120.2,42.2 L120.9,43.0 L119.2,44.4 L119.0,45.8 L117.3,45.8 Z M121.5,42.1 L125.3,42.1 L127.2,43.2 L125.1,44.9 L124.0,44.2 L122.8,43.9 L123.0,42.8 L121.5,42.1 Z M123.0,46.1 L125.9,45.9 L128.5,45.1 L126.6,45.3 L124.0,45.8 L123.0,46.1 Z M127.5,44.6 L132.1,44.4 L131.9,43.8 L128.1,44.1 L127.5,44.6 Z M105.3,37.8 L106.2,36.8 L104.3,34.8 L103.0,35.3 L105.0,36.8 L105.3,37.8 Z M80.1,27.7 L84.0,26.3 L90.3,26.0 L86.5,27.2 L81.4,27.9 L80.1,27.7 Z M70.0,23.9 L73.8,22.4 L78.9,22.0 L77.6,23.4 L72.5,24.1 L70.0,23.9 Z M303.0,41.5 L306.4,41.7 L307.6,42.8 L305.6,43.9 L303.4,43.2 L303.0,41.5 Z M323.1,41.4 L327.0,41.7 L329.8,41.4 L329.5,42.2 L325.7,42.5 L323.1,41.4 Z M270.3,85.7 L272.3,86.0 L272.3,88.3 L269.7,88.6 L269.5,86.9 L270.3,85.7 Z M266.3,89.1 L267.8,91.2 L268.7,94.2 L267.8,94.1 L266.5,91.7 L266.3,89.1 Z M272.5,95.0 L273.5,96.5 L273.9,99.5 L273.0,99.1 L272.5,96.9 L272.5,95.0 Z M360.7,35.3 L365.1,33.9 L368.3,32.7 L367.0,33.9 L362.6,36.3 L360.7,35.3 Z M246.2,73.0 L247.6,72.8 L248.1,73.6 L247.1,73.9 L246.2,73.0 Z"/><path id="coast" d="M19.7,33.9 L24.2,32.9 L28.0,31.7 L29.3,29.9 L26.7,30.0 L22.9,30.0 L22.3,28.6 L19.1,28.0 L19.1,27.2 L19.7,25.8 L24.2,25.2 L24.4,24.1 L21.6,24.3 L17.2,24.3 L15.3,23.3 L19.7,22.4 L21.6,22.7 L22.9,22.1 L20.4,21.2 L17.2,20.7 L21.6,19.7 L24.2,18.6 L29.9,17.9 L35.6,18.3 L40.7,18.8 L47.1,19.0 L49.6,19.5 L54.7,20.1 L57.9,19.6 L62.3,19.3 L66.2,18.6 L70.0,19.6 L75.1,19.3 L80.1,20.1 L84.0,20.7 L89.1,21.0 L94.1,20.2 L100.5,21.2 L104.3,21.0 L106.9,20.5 L108.8,17.4 L110.7,18.1 L113.9,19.6 L117.0,20.5 L120.2,19.3 L124.7,19.6 L125.3,21.0 L123.4,22.6 L119.6,22.4 L117.0,24.8 L113.9,25.3 L110.7,27.2 L108.6,29.1 L109.4,29.9 L111.3,31.4 L114.5,31.5 L117.7,32.7 L120.9,33.2 L124.3,33.3 L124.4,35.3 L126.6,37.0 L127.9,36.8 L128.7,35.8 L128.5,33.9 L131.0,32.5 L131.5,30.6 L129.8,29.6 L130.4,28.2 L129.8,26.5 L134.9,26.5 L138.0,27.5 L140.6,27.7 L140.6,29.8 L143.1,30.3 L145.0,29.8 L146.9,28.4 L148.2,30.1 L150.8,32.0 L152.7,33.1 L155.8,33.9 L157.8,34.9 L158.1,36.1 L156.5,36.8 L152.7,38.0 L147.6,38.0 L144.4,39.0 L141.2,40.1 L138.4,41.3 L139.9,40.6 L143.8,39.1 L147.2,39.3 L146.3,40.1 L146.9,41.5 L150.1,42.2 L151.4,42.4 L152.7,41.8 L152.9,42.1 L151.4,42.8 L148.2,43.5 L145.4,44.4 L144.8,43.5 L146.9,42.7 L143.8,43.3 L141.2,43.9 L139.7,44.2 L139.1,45.3 L139.9,46.0 L138.0,46.4 L135.5,46.9 L134.9,47.3 L134.7,48.0 L133.6,48.8 L132.6,50.3 L132.3,50.7 L132.9,52.2 L131.7,52.9 L129.9,53.6 L128.2,54.2 L126.2,55.2 L125.4,56.8 L126.5,58.9 L127.1,60.4 L126.7,61.9 L125.8,61.9 L124.9,60.6 L123.8,59.2 L123.4,58.1 L122.1,57.2 L120.4,57.6 L119.0,56.9 L117.0,56.7 L115.3,57.0 L115.3,58.1 L114.2,58.2 L112.6,57.8 L110.0,57.6 L108.4,58.0 L106.2,59.0 L105.2,60.0 L105.3,61.3 L104.7,63.0 L104.7,64.9 L105.6,66.7 L106.5,67.6 L108.8,68.6 L111.6,68.2 L113.2,67.8 L114.0,66.7 L114.1,65.9 L116.4,65.4 L118.3,65.4 L118.6,66.3 L117.7,67.5 L117.0,68.5 L116.7,69.4 L116.3,70.9 L117.7,70.9 L120.2,70.8 L122.1,71.0 L123.2,71.6 L122.8,73.1 L122.5,75.0 L123.0,75.9 L124.7,77.2 L125.9,77.5 L127.7,76.8 L129.1,77.0 L130.5,77.6 L129.8,78.3 L129.3,77.9 L127.9,77.5 L126.7,78.8 L125.1,78.2 L123.4,78.0 L120.0,76.5 L119.8,75.3 L118.2,73.7 L116.4,73.3 L113.2,72.7 L111.7,72.1 L109.5,70.8 L107.5,71.0 L105.0,70.7 L102.4,69.9 L99.7,69.1 L97.3,68.5 L95.0,66.9 L94.7,66.3 L95.2,65.4 L94.1,64.2 L91.9,62.6 L89.8,61.3 L89.9,60.6 L88.3,59.4 L87.1,58.5 L85.7,57.5 L84.6,56.1 L83.1,55.7 L82.9,56.8 L84.6,58.3 L85.5,59.2 L86.8,60.6 L87.8,62.1 L88.7,62.8 L89.7,63.8 L89.1,64.1 L87.1,62.6 L86.3,62.3 L86.1,61.1 L84.0,60.1 L83.6,59.3 L82.7,58.6 L81.4,57.0 L80.7,55.9 L79.9,54.7 L78.4,53.7 L77.4,53.3 L75.6,53.0 L73.9,51.1 L73.2,50.0 L72.5,49.5 L71.5,48.2 L70.9,47.5 L71.0,45.8 L70.6,45.1 L71.2,43.5 L71.2,41.8 L71.1,41.1 L70.4,39.7 L72.5,39.9 L71.9,39.5 L69.3,39.2 L68.1,38.4 L66.2,37.4 L66.8,36.8 L66.2,36.0 L63.6,34.4 L63.0,33.4 L61.1,32.5 L59.2,31.0 L56.6,29.6 L54.1,29.9 L51.1,28.9 L47.7,28.6 L45.2,28.5 L42.6,28.2 L40.7,28.6 L38.8,28.9 L35.9,29.4 L36.9,28.0 L35.0,28.5 L33.7,29.4 L32.8,30.4 L30.3,31.1 L27.4,32.4 L25.4,32.9 L22.9,33.4 L19.7,33.9 L19.7,33.9 M130.7,77.7 L131.4,78.0 L132.8,76.9 L133.2,75.7 L134.6,75.2 L136.1,74.8 L137.7,74.1 L138.4,74.7 L138.0,75.5 L139.9,74.6 L140.2,75.1 L142.2,75.9 L144.8,75.8 L147.2,76.0 L148.8,75.7 L149.5,76.4 L151.4,77.7 L152.7,78.0 L154.6,79.3 L156.2,80.2 L158.4,80.3 L160.3,80.5 L162.2,81.2 L163.7,82.0 L164.9,84.2 L165.5,85.0 L164.9,86.0 L167.3,86.9 L169.2,86.5 L172.4,87.7 L173.0,88.4 L176.2,88.7 L179.4,89.4 L181.3,90.5 L183.8,91.0 L184.5,92.6 L184.6,93.8 L184.1,94.8 L182.6,96.0 L181.3,97.2 L180.0,98.4 L179.4,99.8 L179.1,102.4 L178.5,104.3 L177.2,106.0 L175.7,107.8 L173.7,107.9 L172.1,108.3 L169.8,109.0 L167.9,110.1 L167.2,111.3 L167.2,113.2 L165.6,114.1 L164.1,115.6 L162.2,117.1 L160.9,118.1 L159.2,119.3 L157.5,119.3 L155.5,118.9 L154.6,118.4 L156.1,119.9 L156.9,120.8 L155.7,122.4 L152.9,123.0 L149.7,123.0 L149.9,124.6 L147.8,125.2 L146.3,125.1 L147.2,126.4 L146.1,128.4 L143.8,129.5 L143.0,130.5 L144.3,130.9 L142.7,132.7 L141.7,134.1 L141.1,135.2 L142.0,135.9 L141.7,136.2 L143.1,137.5 L146.1,138.2 L143.5,138.5 L140.6,139.0 L138.0,138.0 L134.2,136.1 L132.9,133.7 L132.9,131.3 L134.2,129.4 L135.5,127.5 L134.9,125.9 L135.2,123.7 L135.5,121.5 L136.8,119.9 L137.8,117.5 L138.0,115.1 L138.3,113.2 L139.2,110.8 L139.4,108.4 L139.8,106.4 L139.6,103.5 L138.2,102.9 L136.1,101.8 L133.3,100.6 L132.1,98.9 L130.8,97.4 L129.1,95.0 L127.9,93.1 L125.7,91.7 L126.1,90.7 L125.6,90.1 L127.2,89.0 L126.5,88.1 L126.1,86.9 L127.2,85.5 L128.5,84.7 L128.7,84.0 L130.3,83.1 L130.7,82.1 L130.4,80.2 L129.9,79.1 L130.7,77.7 L130.7,77.7 M221.5,51.8 L220.2,53.5 L218.2,54.1 L216.9,55.4 L216.5,56.9 L216.8,57.4 L215.0,58.5 L212.7,59.4 L211.2,60.6 L210.2,62.1 L208.8,63.3 L208.0,64.9 L207.2,66.0 L208.3,67.2 L208.5,68.6 L208.0,70.5 L207.1,71.8 L207.8,73.0 L207.8,74.1 L209.3,75.2 L210.3,75.8 L212.1,77.1 L213.4,78.9 L215.0,79.6 L217.2,80.9 L219.5,81.7 L221.6,81.2 L224.5,81.1 L227.1,81.2 L230.3,80.3 L232.4,79.9 L234.7,79.9 L236.5,81.8 L237.9,81.7 L239.8,81.5 L241.2,82.3 L241.5,83.8 L240.8,85.0 L240.4,86.4 L241.7,88.6 L243.6,89.8 L244.6,91.7 L245.8,94.2 L246.3,96.3 L244.9,98.8 L244.0,101.2 L243.9,102.8 L245.3,104.7 L247.3,107.4 L247.6,109.5 L248.3,111.7 L249.9,113.3 L251.3,115.1 L252.2,116.3 L252.3,117.9 L252.9,118.7 L254.4,119.2 L257.6,118.4 L260.8,118.4 L262.7,118.1 L264.6,117.1 L266.5,115.8 L268.4,114.1 L270.2,113.2 L270.7,111.3 L270.5,110.7 L273.5,109.3 L274.2,108.4 L274.0,106.5 L273.1,104.9 L274.5,104.0 L276.3,102.7 L279.3,101.4 L280.7,100.3 L280.5,97.9 L280.4,96.0 L279.3,93.6 L279.0,92.2 L278.4,91.2 L279.4,90.0 L280.1,88.5 L281.8,87.6 L283.7,86.0 L285.6,84.5 L288.2,83.3 L290.1,81.7 L291.7,79.5 L293.2,77.2 L294.0,75.9 L294.1,74.7 L292.6,75.0 L290.7,75.3 L287.5,75.7 L285.6,76.0 L284.3,75.1 L284.0,74.7 L283.1,73.1 L281.4,72.1 L279.6,71.1 L278.9,70.2 L278.0,68.8 L276.6,67.3 L276.3,65.9 L275.8,64.9 L274.3,63.5 L273.5,62.1 L272.3,60.5 L271.6,59.4 L270.5,57.4 L271.6,58.7 L272.6,59.3 L273.4,57.8 L272.6,56.1 L270.3,56.2 L268.4,55.8 L266.5,56.3 L263.3,56.0 L260.8,55.8 L258.5,55.2 L256.4,54.5 L254.4,55.4 L254.4,56.3 L253.2,57.0 L251.3,56.3 L248.7,55.6 L248.1,55.0 L245.5,54.5 L243.6,54.2 L242.0,53.7 L243.0,52.0 L242.4,50.8 L241.5,50.3 L239.8,50.7 L237.3,50.5 L234.7,50.7 L232.2,51.0 L229.6,51.6 L227.5,52.1 L226.2,52.4 L224.4,52.2 L222.4,51.8 L221.5,51.8 L221.5,51.8 M221.9,51.6 L221.0,50.8 L219.5,50.4 L217.7,50.6 L217.8,49.2 L216.9,48.9 L217.7,47.6 L217.8,45.8 L217.2,44.9 L218.8,44.2 L222.0,44.4 L224.5,44.5 L226.7,44.5 L227.3,43.5 L227.5,41.8 L226.2,41.0 L225.2,40.6 L223.3,40.2 L223.0,39.6 L225.2,39.3 L227.0,39.4 L226.6,38.5 L227.5,38.8 L229.3,38.7 L230.9,38.0 L231.3,37.3 L232.8,37.0 L234.1,36.4 L235.0,35.3 L237.3,34.9 L239.2,34.8 L240.1,34.4 L239.9,33.0 L239.3,32.0 L239.9,31.4 L242.4,30.8 L242.1,32.2 L242.9,32.1 L241.7,33.2 L241.6,33.6 L242.7,34.4 L244.9,34.0 L247.1,34.5 L250.0,33.9 L252.7,33.7 L254.2,34.0 L256.0,33.2 L255.8,31.7 L257.0,31.0 L258.9,31.5 L260.0,31.0 L259.5,30.2 L258.9,29.4 L262.7,29.1 L264.6,29.1 L267.4,28.7 L265.9,28.5 L262.7,28.3 L258.3,28.7 L256.2,28.0 L256.4,26.9 L256.0,25.8 L257.6,25.0 L260.2,24.0 L261.3,23.6 L259.8,23.1 L257.4,23.1 L256.1,24.3 L254.4,25.1 L252.7,25.8 L251.3,26.5 L250.9,27.4 L251.1,28.1 L252.9,28.6 L252.2,29.3 L250.4,30.1 L250.0,31.3 L249.2,32.4 L247.1,33.0 L245.4,33.0 L245.0,32.3 L244.1,31.0 L243.2,29.7 L242.2,29.4 L241.1,29.7 L239.2,30.5 L237.3,30.5 L236.1,29.8 L235.4,28.6 L235.2,27.2 L236.1,26.5 L237.9,26.0 L239.8,25.3 L241.7,24.7 L243.0,24.0 L244.9,22.9 L246.8,21.7 L248.1,20.7 L250.0,20.2 L251.9,19.5 L254.4,19.1 L257.0,18.8 L259.5,18.1 L262.1,18.2 L264.6,18.0 L267.8,18.6 L268.4,19.3 L271.0,19.8 L274.8,20.0 L278.0,20.6 L281.2,21.4 L281.2,22.5 L279.3,22.9 L277.3,22.8 L273.5,22.6 L271.6,22.3 L270.7,22.0 L269.7,22.4 L272.9,23.9 L273.5,24.5 L275.8,25.0 L277.3,24.3 L279.9,24.4 L280.5,23.7 L282.4,22.4 L285.0,22.8 L285.2,21.3 L284.3,20.7 L287.5,20.8 L288.8,21.4 L292.6,21.0 L297.1,20.4 L298.3,20.8 L301.5,20.5 L304.1,20.6 L305.3,20.1 L306.0,19.3 L310.4,19.8 L313.0,20.1 L315.5,20.7 L316.1,20.1 L314.0,19.6 L314.2,18.6 L313.6,18.0 L316.1,16.6 L317.4,16.2 L320.0,16.3 L321.6,17.0 L321.2,18.1 L320.0,19.6 L321.2,20.2 L322.5,20.9 L321.9,22.0 L320.6,22.4 L323.8,22.0 L323.8,20.5 L322.5,19.6 L323.1,18.6 L321.9,17.7 L324.2,16.4 L325.7,16.9 L327.0,17.7 L328.9,16.8 L330.8,17.0 L332.0,15.7 L335.9,15.5 L339.0,15.4 L339.7,14.2 L343.5,13.8 L349.9,13.3 L354.9,13.1 L357.5,12.6 L361.7,11.7 L363.9,12.0 L365.8,12.7 L370.2,12.7 L373.4,13.2 L373.7,14.0 L371.5,15.3 L368.9,15.3 L370.2,15.7 L373.4,15.9 L377.8,15.7 L380.4,16.1 L385.5,16.0 L389.3,15.8 L392.5,16.4 L393.8,17.4 L395.7,18.3 L397.6,17.7 L400.8,17.6 L403.9,17.8 L407.1,16.8 L409.7,16.5 L414.7,16.9 L419.8,17.6 L422.4,18.2 L428.7,18.1 L432.6,19.1 L434.5,19.5 L437.6,19.4 L442.1,19.5 L445.3,19.1 L447.8,19.2 L452.9,19.3 L456.1,19.7 L458.0,20.2 M458.0,23.9 L456.1,24.3 L454.2,24.2 L452.9,24.8 L456.7,26.3 L454.2,26.3 L450.4,26.9 L447.8,27.7 L445.9,28.4 L442.7,28.2 L440.2,28.7 L438.3,28.8 L436.8,28.8 L435.1,30.4 L436.1,30.8 L436.6,32.3 L435.1,33.6 L433.2,34.9 L430.6,35.8 L428.4,37.2 L427.5,35.8 L427.2,33.9 L427.0,32.2 L428.5,31.0 L430.0,30.6 L432.6,29.3 L434.8,28.4 L437.0,27.2 L435.7,27.0 L433.2,27.6 L431.9,27.0 L428.7,27.1 L425.6,29.1 L422.4,29.6 L418.6,29.0 L414.1,29.2 L410.3,29.4 L407.7,30.6 L405.2,32.0 L403.3,33.4 L404.6,34.2 L407.1,34.4 L408.9,35.1 L408.6,36.1 L407.7,37.7 L407.5,39.6 L405.2,41.1 L402.0,43.5 L398.8,45.1 L396.3,45.1 L395.2,45.6 L394.0,46.8 L393.9,47.8 L391.8,48.7 L392.5,49.4 L393.6,50.6 L393.6,52.0 L392.5,52.5 L389.9,53.1 L389.7,52.0 L390.2,50.7 L389.7,49.9 L388.3,49.9 L388.4,48.9 L387.6,48.0 L384.8,47.8 L383.4,48.7 L384.0,47.6 L383.3,46.9 L381.0,47.9 L379.1,48.6 L378.6,49.3 L380.0,49.9 L380.6,50.5 L382.6,49.9 L384.7,50.4 L382.7,51.2 L380.6,52.6 L382.0,53.2 L382.8,54.8 L384.1,55.7 L383.2,56.6 L384.2,57.5 L383.4,58.7 L382.0,60.0 L381.0,61.5 L379.9,62.5 L378.1,63.4 L376.5,64.2 L374.3,64.7 L373.0,64.9 L371.1,65.3 L369.6,65.8 L369.2,66.6 L368.6,65.9 L367.0,65.3 L365.1,65.9 L364.5,66.6 L363.5,67.8 L364.6,69.3 L366.1,70.4 L367.4,71.6 L368.1,73.1 L367.9,74.9 L366.4,75.6 L364.7,76.1 L362.7,77.7 L362.3,76.6 L361.7,75.9 L360.0,75.3 L359.5,74.3 L357.4,73.8 L357.4,73.1 L356.2,73.2 L355.2,75.4 L355.3,77.1 L356.5,78.0 L356.9,79.1 L357.9,79.4 L359.0,80.0 L360.5,81.3 L360.5,82.7 L361.2,83.7 L361.7,84.6 L360.7,84.7 L359.0,83.8 L357.9,83.2 L357.0,81.9 L356.5,80.7 L355.8,79.6 L354.3,78.3 L354.2,77.1 L354.6,75.8 L354.3,74.4 L353.9,73.0 L353.4,71.7 L353.2,70.6 L352.4,69.9 L350.4,70.9 L349.0,70.7 L349.2,69.2 L348.6,67.8 L347.7,66.9 L346.4,65.9 L345.9,64.5 L344.8,64.3 L343.9,65.0 L342.2,65.2 L341.0,65.3 L339.6,65.9 L339.0,66.7 L337.1,67.5 L335.1,69.0 L333.6,70.1 L332.4,70.9 L330.9,71.5 L331.2,73.2 L330.7,75.0 L330.5,76.1 L329.5,77.1 L328.5,77.5 L327.6,78.2 L326.5,77.5 L325.7,75.9 L324.9,74.7 L323.9,72.7 L322.9,71.1 L322.1,69.2 L321.6,67.5 L321.6,65.9 L321.4,64.7 L319.6,66.1 L318.1,65.7 L316.8,64.7 L318.3,64.2 L316.5,63.7 L314.7,63.1 L313.7,61.7 L310.4,61.8 L307.2,62.0 L303.4,61.5 L301.9,61.2 L301.3,60.1 L299.6,60.4 L297.7,60.5 L295.7,59.6 L294.3,58.7 L292.7,57.2 L291.2,57.0 L290.1,57.7 L291.1,59.2 L292.0,60.3 L292.7,61.0 L293.2,62.1 L293.9,61.0 L294.6,61.8 L294.6,62.7 L296.9,62.9 L299.0,62.1 L300.4,61.0 L300.8,62.2 L302.0,63.2 L303.7,63.4 L305.1,64.5 L303.9,65.8 L302.5,66.7 L302.4,67.9 L300.6,68.9 L299.4,69.4 L298.0,69.8 L295.4,71.1 L292.1,71.9 L291.0,72.6 L289.9,72.6 L287.0,73.2 L285.5,73.8 L284.3,73.9 L284.0,73.2 L283.5,71.8 L283.2,70.2 L282.1,69.0 L281.0,67.3 L279.6,66.5 L278.7,65.5 L278.0,63.4 L276.7,62.7 L275.4,61.2 L274.3,59.8 L273.3,59.1 L273.4,57.8 L272.9,55.9 L273.5,54.6 L274.2,53.5 L274.7,52.1 L275.1,50.9 L274.2,51.0 L272.3,51.4 L270.3,51.5 L267.9,50.9 L266.5,51.4 L264.1,50.6 L262.5,49.5 L263.1,48.4 L262.3,47.8 L262.8,47.5 L262.1,47.0 L259.5,47.0 L258.3,47.4 L257.8,47.8 L258.6,48.5 L258.1,49.5 L258.5,49.9 L258.0,51.1 L256.6,50.8 L256.0,50.0 L256.1,49.3 L255.3,48.7 L254.7,48.1 L253.7,47.4 L253.8,46.0 L252.5,45.4 L251.3,44.9 L249.4,44.4 L248.3,43.7 L247.4,42.8 L246.4,42.4 L244.8,42.6 L244.6,43.4 L245.0,43.8 L246.3,44.4 L246.9,45.4 L248.2,45.9 L249.4,46.4 L251.3,46.9 L252.5,47.7 L252.3,47.9 L250.8,47.3 L250.5,47.4 L250.0,48.1 L250.8,48.8 L249.5,49.8 L249.0,49.5 L249.2,48.9 L249.4,48.0 L248.7,47.6 L248.0,47.6 L247.2,47.0 L246.3,46.6 L245.0,46.3 L243.2,45.5 L242.4,45.0 L242.0,44.0 L240.3,43.5 L238.9,44.1 L237.3,44.8 L234.9,44.5 L233.1,44.8 L233.1,45.9 L231.7,46.6 L230.0,46.8 L229.0,47.8 L228.6,48.4 L229.1,49.0 L228.1,50.0 L227.2,50.1 L226.3,50.9 L223.4,50.9 L222.6,51.3 L221.9,51.6 L221.9,51.6 M373.4,107.0 L374.3,106.8 L377.5,105.6 L380.4,105.0 L382.9,104.6 L384.6,102.4 L386.1,102.5 L388.0,100.3 L389.9,99.1 L392.2,100.3 L393.9,100.2 L394.6,98.3 L396.7,96.7 L398.2,97.2 L401.8,97.4 L403.0,97.6 L401.9,98.8 L401.4,100.3 L403.3,101.1 L406.2,102.7 L408.1,102.6 L409.0,100.3 L409.1,98.0 L410.3,96.2 L411.6,97.9 L411.9,99.6 L413.9,100.2 L414.1,101.7 L415.1,104.1 L418.3,105.4 L419.8,107.1 L421.1,108.4 L423.8,110.4 L424.4,113.2 L423.6,115.6 L422.8,117.0 L421.1,118.7 L419.8,120.8 L419.7,121.8 L416.7,122.2 L415.1,123.3 L413.2,122.5 L411.6,123.0 L409.0,122.5 L407.1,121.8 L406.5,120.3 L405.2,119.9 L404.6,118.9 L403.9,119.4 L403.0,119.6 L404.3,118.2 L404.3,117.1 L402.0,118.4 L401.4,119.3 L399.7,117.3 L396.9,116.5 L393.1,116.2 L389.3,116.8 L386.8,117.5 L386.1,118.4 L381.7,118.4 L379.1,119.4 L376.6,119.4 L375.3,118.7 L376.2,117.8 L376.2,116.2 L375.2,114.1 L374.3,112.9 L373.3,111.3 L373.8,110.3 L373.3,109.3 L373.8,107.9 L373.4,107.0 L373.4,107.0 M221.7,38.1 L225.2,37.5 L229.0,37.4 L230.8,37.0 L231.2,35.6 L229.4,35.0 L228.7,34.4 L227.5,33.8 L227.0,32.9 L225.7,32.2 L226.7,31.0 L224.8,30.0 L222.6,30.0 L221.6,31.0 L221.9,32.1 L222.4,32.9 L222.9,33.6 L224.9,33.6 L224.7,34.2 L225.2,35.0 L223.1,35.0 L223.7,36.0 L222.4,36.5 L224.9,36.9 L223.3,37.1 L221.7,38.1 L221.7,38.1 M221.4,36.3 L221.1,35.0 L221.4,33.9 L219.7,33.1 L218.2,33.3 L218.2,34.1 L216.3,34.2 L216.5,35.3 L215.8,36.3 L216.9,36.7 L218.8,36.5 L221.1,36.1 L221.4,36.3 L221.4,36.3 M198.5,23.4 L201.0,22.5 L206.1,22.8 L209.9,22.7 L211.7,23.8 L210.6,24.4 L205.5,25.4 L201.6,25.0 L200.1,24.7 L201.0,24.2 L198.5,23.4 L198.5,23.4 M291.7,97.4 L293.2,100.8 L292.0,102.7 L290.1,107.0 L288.8,109.8 L286.2,110.3 L284.6,108.4 L285.0,105.0 L285.4,101.7 L288.2,100.8 L290.1,98.8 L291.7,97.4 L291.7,97.4 M395.5,53.5 L397.6,52.0 L401.4,52.0 L403.0,50.4 L405.2,50.1 L406.9,49.2 L407.1,47.8 L407.4,46.5 L409.0,46.5 L409.1,47.8 L409.7,48.2 L408.4,49.4 L408.3,50.6 L408.0,51.6 L407.1,52.5 L405.8,52.7 L403.3,52.9 L401.8,54.0 L400.8,53.0 L398.8,53.2 L396.9,53.6 L395.5,53.5 L395.5,53.5 M393.9,54.2 L395.4,53.5 L396.7,54.2 L396.0,56.0 L394.6,56.2 L393.9,54.2 L393.9,54.2 M397.3,53.6 L399.5,53.2 L400.4,53.7 L398.2,54.6 L397.3,53.6 L397.3,53.6 M407.1,46.3 L408.4,46.0 L411.2,45.8 L414.1,44.6 L413.5,43.6 L409.7,42.5 L409.1,43.5 L408.9,44.7 L407.5,44.7 L407.1,46.3 L407.1,46.3 M409.7,42.0 L411.6,41.5 L410.9,39.2 L412.6,39.2 L411.3,37.2 L410.9,35.3 L410.7,34.1 L409.9,34.1 L409.3,35.8 L409.5,38.2 L409.7,40.1 L409.5,41.4 L409.7,42.0 L409.7,42.0 M381.8,64.0 L382.9,62.1 L384.2,62.1 L383.6,63.5 L382.7,64.9 L381.8,64.0 L381.8,64.0 M367.2,67.6 L369.3,66.8 L370.2,67.2 L368.9,68.5 L367.3,68.3 L367.2,67.6 L367.2,67.6 M330.5,78.3 L331.0,76.6 L332.4,77.7 L333.1,79.0 L332.3,80.0 L330.8,80.0 L330.5,78.3 L330.5,78.3 M381.7,68.3 L384.5,68.3 L384.2,70.2 L383.7,71.1 L384.2,72.6 L386.8,73.5 L385.5,73.5 L382.9,72.8 L382.3,72.1 L381.7,70.7 L381.7,68.3 L381.7,68.3 M384.2,79.3 L386.1,77.8 L388.7,76.6 L389.9,78.8 L389.3,80.2 L386.8,80.0 L384.2,79.3 L384.2,79.3 M384.2,74.7 L386.1,74.0 L388.7,75.0 L388.0,76.4 L385.5,76.9 L384.2,75.9 L384.2,74.7 L384.2,74.7 M378.1,77.9 L381.0,75.9 L381.3,75.1 L379.8,76.4 L378.1,77.9 L378.1,77.9 M350.2,80.6 L353.0,81.0 L356.6,83.6 L358.1,84.3 L361.1,86.0 L361.9,87.7 L363.9,88.9 L363.6,91.5 L361.9,91.6 L359.1,89.8 L357.2,87.9 L355.2,85.8 L354.3,84.3 L352.7,82.9 L351.0,82.1 L350.2,80.6 L350.2,80.6 M362.8,92.4 L363.9,91.6 L367.0,92.2 L370.2,92.1 L372.4,92.5 L374.7,93.4 L374.5,94.3 L370.2,93.9 L367.0,93.4 L364.5,93.0 L362.8,92.4 L362.8,92.4 M367.7,84.5 L368.4,84.0 L370.2,84.4 L372.8,82.9 L374.4,81.6 L375.9,81.0 L377.6,79.4 L378.7,80.3 L380.6,80.9 L379.0,81.9 L379.0,84.2 L380.4,85.1 L378.5,85.9 L377.3,87.4 L376.8,89.3 L374.8,89.8 L372.8,89.0 L370.2,88.8 L369.1,87.9 L367.8,86.3 L367.7,84.5 L367.7,84.5 M380.1,88.6 L380.9,91.2 L382.2,91.3 L382.4,88.8 L383.6,90.5 L385.7,90.2 L384.2,88.8 L383.3,87.8 L385.2,86.7 L385.9,86.9 L383.6,86.7 L382.3,85.5 L383.6,85.0 L386.8,85.1 L388.3,84.4 L387.1,85.7 L381.7,85.4 L381.4,86.7 L380.1,88.6 L380.1,88.6 M395.7,86.9 L397.6,86.3 L399.5,86.8 L401.4,89.1 L404.3,87.4 L408.4,88.4 L412.8,89.6 L414.7,91.2 L416.7,91.8 L417.0,93.6 L418.9,95.0 L420.9,95.8 L418.6,95.9 L416.0,95.6 L414.5,93.6 L411.6,94.5 L410.3,94.8 L408.4,94.6 L405.8,93.7 L404.6,94.0 L404.1,91.2 L401.3,90.2 L398.8,89.6 L398.0,89.8 L396.9,88.6 L398.8,88.2 L396.0,87.4 L395.7,86.9 L395.7,86.9 M386.8,95.6 L388.3,94.2 L391.0,94.0 L388.0,95.1 L386.8,95.6 L386.8,95.6 M374.7,93.8 L376.6,94.0 L380.4,94.0 L385.5,93.9 L385.2,94.4 L380.4,94.4 L376.6,94.5 L374.7,94.4 L374.7,93.8 L374.7,93.8 M391.2,84.2 L392.5,85.5 L391.8,86.7 L391.2,85.5 L391.2,84.2 L391.2,84.2 M391.8,89.0 L395.4,89.3 L395.0,89.7 L392.2,89.5 L391.8,89.0 L391.8,89.0 M417.9,91.2 L422.4,90.0 L421.7,91.2 L418.6,91.9 L417.9,91.2 L417.9,91.2 M413.1,124.8 L417.7,125.0 L417.3,127.0 L415.8,127.6 L413.9,126.3 L413.1,124.8 L413.1,124.8 M448.6,118.9 L451.0,120.5 L452.8,121.8 L456.1,122.0 L454.2,123.5 L452.9,125.4 L451.6,125.7 L451.1,124.0 L450.1,123.5 L451.1,121.7 L448.6,118.9 L448.6,118.9 M448.7,124.6 L450.7,125.4 L449.7,127.0 L448.5,127.8 L446.5,128.4 L446.3,129.8 L444.4,130.5 L440.8,129.9 L441.5,128.9 L443.1,128.0 L446.0,126.9 L447.2,125.6 L448.7,124.6 L448.7,124.6 M120.9,65.0 L123.4,64.1 L125.9,63.9 L128.5,64.5 L130.9,65.3 L132.8,65.9 L134.6,66.7 L132.8,66.9 L130.1,66.9 L130.8,66.3 L129.0,65.3 L126.6,64.9 L124.7,64.6 L122.8,64.7 L120.9,65.0 L120.9,65.0 M134.2,68.4 L136.4,66.9 L139.9,67.1 L142.1,68.2 L139.9,68.6 L138.0,69.1 L136.8,68.6 L134.2,68.4 L134.2,68.4 M129.4,68.4 L131.9,68.7 L131.3,68.9 L129.5,68.6 L129.4,68.4 L129.4,68.4 M143.5,68.3 L145.5,68.5 L145.3,68.8 L143.5,68.8 L143.5,68.3 L143.5,68.3 M153.6,40.5 L154.6,39.2 L155.8,37.7 L158.4,36.7 L158.4,38.2 L160.9,38.9 L161.6,40.1 L162.0,41.1 L160.9,41.4 L159.7,40.8 L158.0,41.2 L157.4,40.5 L153.6,40.5 L153.6,40.5 M32.4,31.5 L35.0,30.6 L35.1,31.2 L33.1,31.9 L32.4,31.5 L32.4,31.5 M244.8,49.7 L246.2,49.5 L248.8,49.4 L248.2,50.6 L247.2,50.8 L244.9,50.0 L244.8,49.7 L244.8,49.7 M239.7,48.7 L241.2,48.5 L241.5,46.9 L240.7,46.5 L239.4,46.9 L239.7,48.7 L239.7,48.7 M239.9,46.3 L241.0,46.4 L241.1,44.9 L239.9,45.5 L239.9,46.3 L239.9,46.3 M258.9,52.2 L262.5,52.3 L260.2,52.5 L258.9,52.2 L258.9,52.2 M270.1,52.8 L272.3,52.5 L273.0,51.9 L271.0,52.1 L270.1,52.8 L270.1,52.8 M0.0,20.2 L3.8,20.7 L7.0,21.7 L10.8,22.1 L13.1,22.8 L11.4,23.4 L9.5,24.4 L6.4,24.1 L2.5,23.5 L0.0,23.9 M30.4,66.6 L32.1,67.3 L30.7,67.9 L30.4,67.1 L30.4,66.6 L30.4,66.6 M27.6,65.3 L28.5,65.6 L27.9,65.6 L27.6,65.3 L27.6,65.3 M12.7,35.6 L15.3,34.9 L17.8,34.5 L16.5,35.0 L12.7,35.6 L12.7,35.6 M127.2,15.6 L131.0,16.5 L136.1,17.6 L139.9,18.6 L143.1,19.6 L143.8,20.7 L148.8,22.1 L150.8,22.4 L147.6,23.7 L145.7,24.6 L146.6,25.4 L145.7,26.0 L141.9,26.5 L138.0,25.6 L134.9,24.4 L130.4,24.4 L129.8,23.6 L134.9,23.5 L135.5,22.4 L136.1,21.5 L131.7,21.2 L129.8,19.6 L125.9,19.1 L122.1,19.1 L116.4,18.6 L115.1,17.7 L117.0,15.9 L120.9,15.8 L127.2,15.6 L127.2,15.6 M77.6,17.7 L79.5,16.4 L85.2,15.9 L91.6,16.0 L95.4,16.3 L99.2,17.5 L100.5,18.6 L96.1,19.8 L91.6,20.2 L85.2,20.0 L81.4,19.8 L78.9,18.8 L77.6,17.7 L77.6,17.7 M69.3,17.2 L70.6,15.1 L76.3,15.0 L81.4,15.9 L77.6,17.4 L73.8,18.0 L69.3,17.2 L69.3,17.2 M114.5,12.9 L115.8,11.3 L112.0,9.1 L120.9,7.8 L131.0,7.0 L146.3,6.7 L150.8,7.3 L142.5,8.8 L137.4,10.0 L129.8,11.7 L127.2,13.1 L117.0,13.1 L114.5,12.9 L114.5,12.9 M112.0,14.3 L113.2,12.7 L120.9,12.8 L127.2,13.2 L127.2,14.2 L120.9,14.8 L112.0,14.3 L112.0,14.3 M106.9,17.2 L103.7,16.2 L105.6,15.3 L110.7,15.2 L114.1,15.5 L113.2,16.7 L108.8,17.4 L106.9,17.2 L106.9,17.2 M80.1,13.4 L94.1,13.4 L94.8,14.3 L86.5,14.9 L80.1,14.6 L80.1,13.4 L80.1,13.4 M117.0,24.4 L120.9,23.1 L123.4,24.1 L125.9,25.0 L122.1,25.3 L118.3,25.0 L117.0,24.4 L117.0,24.4 M108.1,11.0 L106.9,9.1 L112.0,8.3 L117.0,9.5 L113.2,11.0 L108.1,11.0 L108.1,11.0 M100.5,13.8 L105.6,12.9 L106.9,14.0 L104.3,14.4 L100.5,13.8 L100.5,13.8 M73.8,13.4 L80.1,11.9 L84.0,12.9 L78.9,13.8 L73.8,13.4 L73.8,13.4 M243.0,11.0 L249.4,12.9 L253.2,11.9 L258.3,11.2 L263.3,10.0 L254.4,9.1 L249.4,9.5 L243.0,9.8 L243.0,11.0 L243.0,11.0 M295.2,17.9 L296.4,18.4 L299.0,18.5 L302.2,18.4 L300.2,16.7 L302.2,14.8 L306.6,13.7 L313.0,12.9 L316.8,12.5 L310.4,12.4 L303.4,13.6 L299.0,14.8 L297.7,16.2 L295.2,17.9 L295.2,17.9 M349.9,10.5 L356.2,11.2 L362.6,11.0 L361.3,9.5 L353.7,8.6 L349.9,9.1 L349.9,10.5 L349.9,10.5 M403.3,13.8 L407.1,14.8 L413.5,14.6 L418.6,14.0 L410.9,13.2 L404.6,13.4 L403.3,13.8 L403.3,13.8 M288.8,9.1 L299.0,8.1 L307.9,8.6 L305.3,9.5 L295.2,9.5 L288.8,9.1 L288.8,9.1 M456.2,18.0 L458.0,17.7 M458.0,18.2 L456.2,18.0 L456.2,18.0 M0.0,17.7 L3.2,17.9 L0.0,18.2 M99.9,16.4 L101.8,15.5 L105.0,15.6 L106.2,16.6 L103.7,17.3 L99.9,16.4 L99.9,16.4 M103.0,20.1 L106.9,19.3 L107.5,20.2 L104.6,20.6 L103.0,20.1 L103.0,20.1 M106.2,14.3 L110.0,13.7 L111.3,14.4 L108.1,14.7 L106.2,14.3 L106.2,14.3 M96.7,11.2 L101.8,10.2 L104.3,10.9 L100.5,11.7 L96.7,11.2 L96.7,11.2 M86.5,10.9 L91.6,10.5 L93.5,11.3 L89.1,11.7 L86.5,10.9 L86.5,10.9 M85.2,11.7 L90.3,11.6 L89.1,12.5 L85.2,12.3 L85.2,11.7 L85.2,11.7 M125.9,15.9 L131.0,15.6 L131.7,16.3 L127.2,16.5 L125.9,15.9 L125.9,15.9 M122.8,25.9 L125.9,25.8 L125.3,26.5 L123.4,26.5 L122.8,25.9 L122.8,25.9 M124.7,35.3 L126.2,35.1 L125.9,35.5 L124.7,35.3 L124.7,35.3 M126.6,26.5 L127.9,26.4 L127.5,26.9 L126.6,26.5 L126.6,26.5 M217.5,18.1 L218.9,18.0 L218.6,18.2 L217.5,18.1 L217.5,18.1 M290.7,19.6 L292.4,19.9 L291.6,20.2 L290.7,19.6 L290.7,19.6 M303.4,18.6 L306.0,18.9 L304.7,19.3 L303.4,18.6 L303.4,18.6 M352.4,11.9 L353.7,11.6 L351.1,11.4 L352.4,11.9 L352.4,11.9 M419.8,12.9 L422.4,13.2 L421.1,13.6 L419.8,12.9 L419.8,12.9 M251.9,10.0 L260.8,9.1 L263.3,9.5 L254.4,10.3 L251.9,10.0 L251.9,10.0 M400.8,14.6 L403.3,14.3 L402.7,15.1 L400.8,14.6 L400.8,14.6 M21.6,159.9 L26.7,159.8 L27.4,160.3 L22.3,160.4 L21.6,159.9 L21.6,159.9 M76.3,13.6 L80.1,13.1 L81.4,13.8 L77.6,14.0 L76.3,13.6 L76.3,13.6 M84.0,13.8 L91.6,13.5 L94.1,14.1 L89.1,14.7 L84.0,13.8 L84.0,13.8 M98.0,11.9 L101.1,11.6 L101.8,12.1 L98.6,12.4 L98.0,11.9 L98.0,11.9 M104.3,11.1 L106.9,10.7 L108.1,11.3 L105.6,11.6 L104.3,11.1 L104.3,11.1 M105.6,12.4 L110.7,12.2 L111.3,12.9 L106.9,13.0 L105.6,12.4 L105.6,12.4 M92.9,11.8 L96.7,11.7 L96.1,12.2 L93.5,12.3 L92.9,11.8 L92.9,11.8 M94.1,15.8 L96.7,15.5 L96.9,16.0 L94.8,16.2 L94.1,15.8 L94.1,15.8 M101.8,15.3 L104.3,15.0 L105.0,15.6 L102.4,15.7 L101.8,15.3 L101.8,15.3 M112.0,15.5 L115.8,15.1 L117.0,15.9 L113.2,16.0 L112.0,15.5 L112.0,15.5 M136.1,11.2 L142.5,9.4 L147.6,8.3 L155.2,7.5 L165.4,7.2 L175.6,6.6 L188.3,6.1 L197.2,6.5 L203.6,7.4 L208.6,8.1 L213.7,8.2 L207.4,9.4 L204.2,10.3 L204.8,11.9 L201.6,13.2 L203.8,14.5 L201.0,16.0 L201.0,17.7 L198.5,18.6 L201.0,18.9 L195.9,20.4 L189.6,20.9 L185.1,22.4 L181.3,23.1 L177.5,24.1 L176.8,25.8 L174.5,27.5 L173.0,28.6 L170.5,28.0 L167.6,27.4 L165.6,25.8 L163.5,24.5 L161.8,22.9 L160.7,21.8 L162.8,20.5 L164.1,19.6 L160.3,18.6 L159.7,17.7 L157.8,16.4 L155.8,14.8 L154.6,13.8 L150.1,13.2 L143.8,13.2 L139.9,12.6 L136.8,11.9 L136.1,11.2 L136.1,11.2 M264.6,46.2 L266.1,46.6 L269.1,46.6 L271.6,45.8 L273.8,45.8 L276.7,46.7 L279.3,46.7 L281.8,46.3 L282.1,45.4 L279.9,44.4 L277.3,43.5 L276.1,42.8 L274.2,42.8 L271.6,43.5 L270.3,42.6 L271.9,42.0 L269.1,41.4 L267.4,42.2 L266.7,42.8 L265.4,43.7 L264.5,44.9 L264.6,46.2 L264.6,46.2 M292.0,41.5 L294.5,41.1 L296.4,41.4 L296.7,42.7 L294.3,43.5 L294.3,44.7 L296.0,45.4 L295.8,46.3 L297.6,47.1 L296.4,48.4 L297.6,50.3 L293.9,50.9 L291.3,50.0 L291.2,49.2 L291.8,47.6 L290.7,46.1 L289.4,44.9 L289.4,43.5 L288.5,43.2 L289.4,42.4 L292.0,41.5 L292.0,41.5 M111.8,41.4 L115.1,40.1 L119.0,39.4 L121.1,41.2 L119.0,41.6 L114.5,41.4 L111.8,41.4 L111.8,41.4 M117.3,45.8 L117.7,43.5 L120.2,42.2 L120.9,43.0 L119.2,44.4 L119.0,45.8 L117.3,45.8 L117.3,45.8 M121.5,42.1 L125.3,42.1 L127.2,43.2 L125.1,44.9 L124.0,44.2 L122.8,43.9 L123.0,42.8 L121.5,42.1 L121.5,42.1 M123.0,46.1 L125.9,45.9 L128.5,45.1 L126.6,45.3 L124.0,45.8 L123.0,46.1 L123.0,46.1 M127.5,44.6 L132.1,44.4 L131.9,43.8 L128.1,44.1 L127.5,44.6 L127.5,44.6 M105.3,37.8 L106.2,36.8 L104.3,34.8 L103.0,35.3 L105.0,36.8 L105.3,37.8 L105.3,37.8 M80.1,27.7 L84.0,26.3 L90.3,26.0 L86.5,27.2 L81.4,27.9 L80.1,27.7 L80.1,27.7 M70.0,23.9 L73.8,22.4 L78.9,22.0 L77.6,23.4 L72.5,24.1 L70.0,23.9 L70.0,23.9 M303.0,41.5 L306.4,41.7 L307.6,42.8 L305.6,43.9 L303.4,43.2 L303.0,41.5 L303.0,41.5 M323.1,41.4 L327.0,41.7 L329.8,41.4 L329.5,42.2 L325.7,42.5 L323.1,41.4 L323.1,41.4 M270.3,85.7 L272.3,86.0 L272.3,88.3 L269.7,88.6 L269.5,86.9 L270.3,85.7 L270.3,85.7 M266.3,89.1 L267.8,91.2 L268.7,94.2 L267.8,94.1 L266.5,91.7 L266.3,89.1 L266.3,89.1 M272.5,95.0 L273.5,96.5 L273.9,99.5 L273.0,99.1 L272.5,96.9 L272.5,95.0 L272.5,95.0 M360.7,35.3 L365.1,33.9 L368.3,32.7 L367.0,33.9 L362.6,36.3 L360.7,35.3 L360.7,35.3 M246.2,73.0 L247.6,72.8 L248.1,73.6 L247.1,73.9 L246.2,73.0 L246.2,73.0 M0.0,165.7 L19.1,166.6 L42.7,167.6 L33.7,167.3 L33.7,162.9 L43.6,163.1 L33.7,162.7 L33.7,159.5 L43.6,159.5 L46.7,158.2 L56.9,156.6 L66.3,158.6 L71.8,155.9 L78.2,156.2 L101.3,155.3 L113.4,155.3 L130.5,155.5 L136.8,152.4 L147.7,147.9 L155.5,145.2 L158.6,146.1 L148.5,150.2 L152.3,154.4 L150.8,157.3 L144.5,159.5 L160.2,160.2 L171.9,160.9 L183.6,160.2 L193.3,158.2 L199.4,156.9 L215.9,153.4 L233.3,152.2 L251.8,152.2 L275.2,150.5 L296.3,148.2 L305.6,149.2 L318.4,152.6 L326.7,150.5 L345.4,148.6 L368.8,148.2 L392.2,148.6 L400.5,148.5 L413.0,149.9 L423.9,151.7 L436.4,153.6 L445.8,154.4 L436.4,158.7 L444.1,159.5 L436.4,159.3 L433.3,161.5 L434.1,163.3 L441.8,164.9 L458.0,165.6"/><g id="grid"><line x1="0.0" y1="171.9" x2="0.0" y2="0"/><line x1="57.2" y1="171.9" x2="57.2" y2="0"/><line x1="114.5" y1="171.9" x2="114.5" y2="0"/><line x1="171.8" y1="171.9" x2="171.8" y2="0"/><line x1="229.0" y1="171.9" x2="229.0" y2="0"/><line x1="286.2" y1="171.9" x2="286.2" y2="0"/><line x1="343.5" y1="171.9" x2="343.5" y2="0"/><line x1="400.8" y1="171.9" x2="400.8" y2="0"/><line x1="458.0" y1="171.9" x2="458.0" y2="0"/><line x1="0" y1="28.6" x2="458.0" y2="28.6"/><line x1="0" y1="57.3" x2="458.0" y2="57.3"/><line x1="0" y1="86.0" x2="458.0" y2="86.0"/><line x1="0" y1="114.6" x2="458.0" y2="114.6"/><line x1="0" y1="143.2" x2="458.0" y2="143.2"/></g><clipPath id="landclip"><use href="#land"/></clipPath><filter id="soft" x="-2%" y="-2%" width="104%" height="104%"><feGaussianBlur stdDeviation="0.55"/></filter><filter id="b05" x="-20%" y="-20%" width="140%" height="140%"><feGaussianBlur stdDeviation="0.60"/></filter><filter id="b1" x="-20%" y="-20%" width="140%" height="140%"><feGaussianBlur stdDeviation="1.00"/></filter><filter id="b2" x="-20%" y="-20%" width="140%" height="140%"><feGaussianBlur stdDeviation="2.00"/></filter><filter id="b15" x="-20%" y="-20%" width="140%" height="140%"><feGaussianBlur stdDeviation="1.50"/></filter><linearGradient id="ocA" gradientUnits="userSpaceOnUse" x1="0" y1="0" x2="0" y2="171.90"><stop offset="0.1889" stop-color="#6e00a0"/><stop offset="0.2500" stop-color="#6a00b0"/><stop offset="0.3167" stop-color="#5000d0"/><stop offset="0.3667" stop-color="#3000f0"/><stop offset="0.4056" stop-color="#2010ff"/><stop offset="0.4444" stop-color="#1030ff"/><stop offset="0.4722" stop-color="#1050ff"/><stop offset="0.5000" stop-color="#1458ff"/><stop offset="0.5833" stop-color="#1860ff"/><stop offset="0.6389" stop-color="#1060ff"/><stop offset="0.6667" stop-color="#1050ff"/><stop offset="0.7278" stop-color="#1030ff"/><stop offset="0.7667" stop-color="#1010f0"/><stop offset="0.7944" stop-color="#4000d0"/><stop offset="0.8333" stop-color="#6000b0"/><stop offset="0.8722" stop-color="#6a00a8"/><stop offset="0.9333" stop-color="#6a00a0"/></linearGradient><linearGradient id="ldA" gradientUnits="userSpaceOnUse" x1="0" y1="0" x2="0" y2="171.90"><stop offset="0.1889" stop-color="#34f4bc"/><stop offset="0.2167" stop-color="#2cf0cc"/><stop offset="0.2444" stop-color="#20e4ec"/><stop offset="0.2778" stop-color="#10c8ff"/><stop offset="0.3333" stop-color="#10b4ff"/><stop offset="0.4167" stop-color="#10a8ff"/><stop offset="0.5000" stop-color="#10a4ff"/><stop offset="0.5833" stop-color="#109cff"/><stop offset="0.6389" stop-color="#0884ff"/><stop offset="0.6944" stop-color="#0064ff"/><stop offset="0.8111" stop-color="#10a4ff"/></linearGradient><clipPath id="clipA"><path d="M0.0,34.4 L458.0,34.4 L458.0,160.0 L0.0,160.0 Z"/></clipPath><clipPath id="wclipA"><path clip-rule="evenodd" d="M-3,-3 H461.00 V174.90 H-3 Z M0.0,34.4 L458.0,34.4 L458.0,160.0 L0.0,160.0 Z"/><use href="#grl"/><use href="#ant"/></clipPath><linearGradient id="ocB" gradientUnits="userSpaceOnUse" x1="0" y1="0" x2="0" y2="171.90"><stop offset="0.1000" stop-color="#6800b0"/><stop offset="0.1556" stop-color="#6000c0"/><stop offset="0.1889" stop-color="#4000e0"/><stop offset="0.2222" stop-color="#1a20ff"/><stop offset="0.2778" stop-color="#1030ff"/><stop offset="0.3333" stop-color="#1040ff"/><stop offset="0.4167" stop-color="#1050ff"/><stop offset="0.4722" stop-color="#1060ff"/><stop offset="0.5278" stop-color="#1060ff"/><stop offset="0.5556" stop-color="#1050ff"/><stop offset="0.5944" stop-color="#1020ff"/><stop offset="0.6389" stop-color="#3010f0"/><stop offset="0.7000" stop-color="#5008d0"/><stop offset="0.7556" stop-color="#6000b8"/><stop offset="0.8222" stop-color="#6800a8"/></linearGradient><linearGradient id="ldB" gradientUnits="userSpaceOnUse" x1="0" y1="0" x2="0" y2="171.90"><stop offset="0.1000" stop-color="#30f8b8"/><stop offset="0.1278" stop-color="#20f0d8"/><stop offset="0.1611" stop-color="#10d0ff"/><stop offset="0.2111" stop-color="#10acff"/><stop offset="0.2500" stop-color="#109cff"/><stop offset="0.3056" stop-color="#1094ff"/><stop offset="0.3889" stop-color="#109cff"/><stop offset="0.5000" stop-color="#10acff"/><stop offset="0.6111" stop-color="#10acff"/><stop offset="0.6944" stop-color="#10b4ff"/><stop offset="0.7889" stop-color="#20e4df"/></linearGradient><clipPath id="clipB"><path d="M0.0,17.4 L458.0,17.4 L458.0,141.3 L0.0,141.3 Z"/></clipPath><clipPath id="wclipB"><path clip-rule="evenodd" d="M-3,-3 H461.00 V174.90 H-3 Z M0.0,17.4 L458.0,17.4 L458.0,141.3 L0.0,141.3 Z"/><use href="#grl"/><use href="#ant"/></clipPath><linearGradient id="ocC" gradientUnits="userSpaceOnUse" x1="0" y1="0" x2="0" y2="171.90"><stop offset="0.0667" stop-color="#6a00b0"/><stop offset="0.1778" stop-color="#6a00c0"/><stop offset="0.2111" stop-color="#4000e0"/><stop offset="0.2333" stop-color="#1a30ff"/><stop offset="0.2778" stop-color="#1050ff"/><stop offset="0.3333" stop-color="#1858ff"/><stop offset="0.4167" stop-color="#1060ff"/><stop offset="0.4722" stop-color="#1050ff"/><stop offset="0.5000" stop-color="#1040ff"/><stop offset="0.5278" stop-color="#1030ff"/><stop offset="0.5556" stop-color="#2010f8"/><stop offset="0.6111" stop-color="#4a08d8"/><stop offset="0.6667" stop-color="#5a04c8"/><stop offset="0.7000" stop-color="#6400b8"/><stop offset="0.7667" stop-color="#6a00a8"/></linearGradient><linearGradient id="ldC" gradientUnits="userSpaceOnUse" x1="0" y1="0" x2="0" y2="171.90"><stop offset="0.0667" stop-color="#30f8b8"/><stop offset="0.1222" stop-color="#20f0d8"/><stop offset="0.1667" stop-color="#10c8ff"/><stop offset="0.2333" stop-color="#10a4ff"/><stop offset="0.2778" stop-color="#0c8cff"/><stop offset="0.3333" stop-color="#109cff"/><stop offset="0.5000" stop-color="#10acff"/><stop offset="0.6111" stop-color="#10b4ff"/><stop offset="0.6944" stop-color="#10bcff"/><stop offset="0.7333" stop-color="#18dcef"/><stop offset="0.7667" stop-color="#20e4df"/></linearGradient><clipPath id="clipC"><path d="M0.0,19.1 L25.4,17.4 L49.6,18.9 L66.2,18.3 L82.7,19.5 L101.8,19.9 L114.5,19.3 L123.4,20.4 L127.2,22.9 L131.0,24.4 L136.1,22.9 L142.5,19.6 L137.4,17.2 L129.8,14.8 L132.3,11.7 L295.2,11.7 L295.2,18.0 L305.3,18.5 L313.0,17.7 L318.1,15.5 L330.8,15.1 L341.0,13.8 L356.2,12.4 L362.6,11.5 L371.5,12.4 L375.3,13.4 L384.2,15.5 L394.4,16.0 L407.1,16.2 L419.8,17.2 L432.6,18.5 L445.3,18.7 L458.0,19.6 L458.0,131.0 L0.0,131.0 Z"/></clipPath><clipPath id="wclipC"><path clip-rule="evenodd" d="M-3,-3 H461.00 V174.90 H-3 Z M0.0,19.1 L25.4,17.4 L49.6,18.9 L66.2,18.3 L82.7,19.5 L101.8,19.9 L114.5,19.3 L123.4,20.4 L127.2,22.9 L131.0,24.4 L136.1,22.9 L142.5,19.6 L137.4,17.2 L129.8,14.8 L132.3,11.7 L295.2,11.7 L295.2,18.0 L305.3,18.5 L313.0,17.7 L318.1,15.5 L330.8,15.1 L341.0,13.8 L356.2,12.4 L362.6,11.5 L371.5,12.4 L375.3,13.4 L384.2,15.5 L394.4,16.0 L407.1,16.2 L419.8,17.2 L432.6,18.5 L445.3,18.7 L458.0,19.6 L458.0,131.0 L0.0,131.0 Z"/><use href="#grl"/><use href="#ant"/></clipPath><linearGradient id="ocD" gradientUnits="userSpaceOnUse" x1="0" y1="0" x2="0" y2="171.90"><stop offset="0.1333" stop-color="#6a00b0"/><stop offset="0.2167" stop-color="#6a00b0"/><stop offset="0.3056" stop-color="#5a00c8"/><stop offset="0.3444" stop-color="#4000e0"/><stop offset="0.4000" stop-color="#1010ff"/><stop offset="0.4444" stop-color="#1040ff"/><stop offset="0.5000" stop-color="#1050ff"/><stop offset="0.6500" stop-color="#1050ff"/><stop offset="0.6889" stop-color="#1030ff"/><stop offset="0.7111" stop-color="#1010f8"/><stop offset="0.7500" stop-color="#4008d8"/><stop offset="0.7889" stop-color="#6000b8"/><stop offset="0.8333" stop-color="#6800b0"/><stop offset="0.8778" stop-color="#6a00a8"/></linearGradient><linearGradient id="ldD" gradientUnits="userSpaceOnUse" x1="0" y1="0" x2="0" y2="171.90"><stop offset="0.1333" stop-color="#20f4d0"/><stop offset="0.1667" stop-color="#18e0f4"/><stop offset="0.2111" stop-color="#10b4ff"/><stop offset="0.3056" stop-color="#109cff"/><stop offset="0.3889" stop-color="#108cff"/><stop offset="0.5000" stop-color="#10a4ff"/><stop offset="0.6111" stop-color="#10a4ff"/><stop offset="0.6944" stop-color="#10acff"/><stop offset="0.8111" stop-color="#10b4ff"/></linearGradient><clipPath id="clipD"><path d="M0.0,22.8 L458.0,22.8 L458.0,150.1 L0.0,150.1 Z"/></clipPath><clipPath id="wclipD"><path clip-rule="evenodd" d="M-3,-3 H461.00 V174.90 H-3 Z M0.0,22.8 L458.0,22.8 L458.0,150.1 L0.0,150.1 Z"/><use href="#grl"/><use href="#ant"/></clipPath></defs><g transform="translate(21.20,20.05)" filter="url(#soft)"><g clip-path="url(#clipA)"><rect x="0" y="0" width="458.00" height="171.90" fill="url(#ocA)"/><g clip-path="url(#landclip)"><rect x="0" y="0" width="458.00" height="171.90" fill="url(#ldA)"/><path d="M320.6,49.9 L324.4,49.4 L330.8,49.9 L338.4,50.3 L346.0,50.6 L352.4,51.1 L356.9,52.0 L359.1,54.0 L358.1,56.8 L354.3,58.3 L347.3,58.6 L339.7,58.7 L333.3,57.8 L328.9,55.9 L325.1,53.5 L321.9,51.1 Z" fill="#ffffff" fill-opacity="1.00" filter="url(#b05)"/><path d="M207.4,74.5 L282.4,74.5 L282.4,67.8 L207.4,67.8 Z" fill="#1474fa" fill-opacity="0.55" filter="url(#b2)"/><path d="M134.9,98.6 L138.7,100.3 L143.1,105.0 L145.0,110.3 L143.5,110.8 L140.6,105.5 L135.5,100.3 Z" fill="#ffffff" fill-opacity="0.95" filter="url(#b05)"/><path d="M241.7,100.3 L282.4,100.3 L282.4,120.3 L241.7,120.3 Z" fill="#0054ff" fill-opacity="0.90" filter="url(#b2)"/><path d="M368.9,94.5 L427.5,94.5 L427.5,128.9 L368.9,128.9 Z" fill="#0024ff" fill-opacity="0.95" filter="url(#b2)"/></g><use href="#water" fill="url(#ocA)"/><path d="M291.7,97.4 L293.2,100.8 L292.0,102.7 L290.1,107.0 L288.8,109.8 L286.2,110.3 L284.6,108.4 L285.0,105.0 L285.4,101.7 L288.2,100.8 L290.1,98.8 L291.7,97.4 Z" fill="url(#ocA)"/><use href="#lakes" fill="#101060"/></g><use href="#grl" fill="#fff"/><use href="#ant" fill="#fff"/><g stroke-width="1.3" stroke-dasharray="11.3,6.2,2.3,6.2" fill="none"><use href="#grid" stroke="#000" stroke-opacity="0.3" clip-path="url(#clipA)"/><use href="#grid" stroke="#8a8a8a" clip-path="url(#wclipA)"/></g><use href="#coast" fill="none" stroke="#151515" stroke-width="1.5" stroke-linejoin="round"/><use href="#coast" fill="none" stroke="#000" stroke-width="2.3" stroke-linejoin="round" clip-path="url(#clipA)"/><path d="M38.8,102.8 h0.01 M455.5,102.9 h0.01 M440.8,107.0 h0.01 M10.4,99.1 h0.01 M432.4,95.0 h0.01 M433.2,94.5 h0.01 M426.8,92.2 h0.01 M428.7,93.6 h0.01 M302.2,105.2 h0.01 M299.6,106.0 h0.01 M322.5,82.1 h0.01 M113.9,86.4 h0.01 M207.4,58.9 h0.01 M198.5,70.7 h0.01 M196.6,49.9 h0.01 M146.6,55.1 h0.01 M151.4,72.1 h0.01 M150.8,75.9 h0.01 M400.1,78.8 h0.01 M413.5,71.6 h0.01 M413.1,73.2 h0.01 M440.8,67.5 h0.01 M127.2,118.0 h0.01 M221.7,101.1 h0.01 M210.7,93.5 h0.01 M213.4,121.4 h0.01 M277.1,130.6 h0.01 M294.9,130.3 h0.01 M317.4,133.0 h0.01 M322.5,136.6 h0.01 M153.9,135.3 h0.01 M182.6,137.8 h0.01 M440.2,134.3 h0.01" stroke="#000" stroke-width="1.6" stroke-linecap="round"/></g><rect x="16.8" y="17.8" width="467.6" height="175.5" fill="none" stroke="#9a9a9a" stroke-width="2"/><text x="27.4" y="36.7" font-family="Liberation Sans, sans-serif" font-size="19.5" fill="#1a1a1a" textLength="12" lengthAdjust="spacingAndGlyphs">A</text><g transform="translate(546.70,20.05)" filter="url(#soft)"><g clip-path="url(#clipB)"><rect x="0" y="0" width="458.00" height="171.90" fill="url(#ocB)"/><g clip-path="url(#landclip)"><rect x="0" y="0" width="458.00" height="171.90" fill="url(#ldB)"/><path d="M320.6,49.9 L324.4,49.4 L330.8,49.9 L338.4,50.3 L346.0,50.6 L352.4,51.1 L356.9,52.0 L359.1,54.0 L358.1,56.8 L354.3,58.3 L347.3,58.6 L339.7,58.7 L333.3,57.8 L328.9,55.9 L325.1,53.5 L321.9,51.1 Z" fill="#ffffff" fill-opacity="1.00" filter="url(#b05)"/><path d="M134.9,98.6 L138.7,100.3 L143.1,105.0 L145.0,110.3 L143.5,110.8 L140.6,105.5 L135.5,100.3 Z" fill="#ffffff" fill-opacity="0.95" filter="url(#b05)"/><path d="M207.4,73.5 L207.4,60.2 L216.3,56.3 L226.5,54.0 L239.2,54.4 L244.3,55.9 L254.4,56.8 L267.2,57.3 L273.5,57.3 L273.5,73.5 L254.4,74.0 L229.0,73.5 Z" fill="#1424f2" fill-opacity="1.00" filter="url(#b1)"/><path d="M273.5,57.3 L277.3,53.5 L285.0,50.6 L292.6,50.1 L300.2,50.6 L307.9,52.5 L310.4,57.3 L307.9,62.1 L299.0,70.7 L286.2,74.5 L277.3,73.5 L273.5,73.5 Z" fill="#1424f2" fill-opacity="1.00" filter="url(#b1)"/><path d="M241.7,100.3 L282.4,100.3 L282.4,120.3 L241.7,120.3 Z" fill="#0884ff" fill-opacity="0.60" filter="url(#b2)"/><path d="M78.9,57.3 L101.8,58.3 L114.5,64.9 L127.2,76.4 L133.6,81.2 L124.7,79.3 L108.1,72.6 L91.6,66.8 L78.9,59.2 Z" fill="#0064ff" fill-opacity="0.80" filter="url(#b2)"/><path d="M70.0,40.1 L101.8,40.1 L101.8,59.2 L78.9,59.2 L70.0,49.7 Z" fill="#0a7cff" fill-opacity="0.70" filter="url(#b2)"/><path d="M286.2,40.1 L330.8,39.2 L381.7,39.2 L400.8,43.0 L388.0,51.6 L356.2,48.7 L318.1,47.8 L292.6,50.6 L286.2,47.8 Z" fill="#0064ff" fill-opacity="0.80" filter="url(#b2)"/><path d="M346.0,59.2 L384.2,59.2 L384.2,81.2 L346.0,81.2 Z" fill="#0064ff" fill-opacity="0.70" filter="url(#b2)"/><path d="M368.9,94.5 L427.5,94.5 L427.5,128.9 L368.9,128.9 Z" fill="#10b4ff" fill-opacity="0.90" filter="url(#b2)"/><g fill="#fff" fill-opacity="0.75"><circle cx="286.1" cy="68.3" r="0.80"/><circle cx="253.7" cy="58.6" r="0.92"/><circle cx="293.5" cy="64.0" r="0.90"/><circle cx="207.6" cy="63.6" r="0.89"/><circle cx="210.0" cy="61.3" r="0.98"/><circle cx="246.7" cy="69.2" r="0.77"/><circle cx="210.4" cy="69.1" r="0.78"/><circle cx="258.5" cy="68.8" r="0.69"/><circle cx="229.9" cy="63.3" r="0.72"/><circle cx="264.7" cy="58.8" r="0.67"/><circle cx="219.8" cy="66.4" r="0.89"/><circle cx="276.4" cy="67.1" r="0.84"/><circle cx="298.3" cy="53.9" r="0.80"/><circle cx="268.1" cy="73.6" r="0.70"/><circle cx="289.5" cy="64.4" r="0.67"/><circle cx="263.9" cy="57.4" r="0.87"/><circle cx="246.0" cy="63.8" r="0.80"/><circle cx="287.6" cy="61.8" r="0.76"/></g></g><use href="#water" fill="url(#ocB)"/><use href="#lakes" fill="#101060"/></g><use href="#grl" fill="#fff"/><use href="#ant" fill="#fff"/><g stroke-width="1.3" stroke-dasharray="11.3,6.2,2.3,6.2" fill="none"><use href="#grid" stroke="#000" stroke-opacity="0.3" clip-path="url(#clipB)"/><use href="#grid" stroke="#8a8a8a" clip-path="url(#wclipB)"/></g><use href="#coast" fill="none" stroke="#151515" stroke-width="1.5" stroke-linejoin="round"/><use href="#coast" fill="none" stroke="#000" stroke-width="2.3" stroke-linejoin="round" clip-path="url(#clipB)"/><path d="M38.8,102.8 h0.01 M455.5,102.9 h0.01 M440.8,107.0 h0.01 M10.4,99.1 h0.01 M432.4,95.0 h0.01 M433.2,94.5 h0.01 M426.8,92.2 h0.01 M428.7,93.6 h0.01 M302.2,105.2 h0.01 M299.6,106.0 h0.01 M322.5,82.1 h0.01 M113.9,86.4 h0.01 M207.4,58.9 h0.01 M198.5,70.7 h0.01 M196.6,49.9 h0.01 M146.6,55.1 h0.01 M151.4,72.1 h0.01 M150.8,75.9 h0.01 M400.1,78.8 h0.01 M413.5,71.6 h0.01 M413.1,73.2 h0.01 M440.8,67.5 h0.01 M127.2,118.0 h0.01 M221.7,101.1 h0.01 M210.7,93.5 h0.01 M213.4,121.4 h0.01 M277.1,130.6 h0.01 M294.9,130.3 h0.01 M317.4,133.0 h0.01 M322.5,136.6 h0.01 M153.9,135.3 h0.01 M182.6,137.8 h0.01 M440.2,134.3 h0.01" stroke="#000" stroke-width="1.6" stroke-linecap="round"/></g><rect x="542.6" y="17.8" width="467.6" height="175.5" fill="none" stroke="#9a9a9a" stroke-width="2"/><text x="552.9" y="36.7" font-family="Liberation Sans, sans-serif" font-size="19.5" fill="#1a1a1a" textLength="12" lengthAdjust="spacingAndGlyphs">B</text><g transform="translate(21.20,224.60)" filter="url(#soft)"><g clip-path="url(#clipC)"><rect x="0" y="0" width="458.00" height="171.90" fill="url(#ocC)"/><g clip-path="url(#landclip)"><rect x="0" y="0" width="458.00" height="171.90" fill="url(#ldC)"/><path d="M320.6,49.9 L324.4,49.4 L330.8,49.9 L338.4,50.3 L346.0,50.6 L352.4,51.1 L356.9,52.0 L359.1,54.0 L358.1,56.8 L354.3,58.3 L347.3,58.6 L339.7,58.7 L333.3,57.8 L328.9,55.9 L325.1,53.5 L321.9,51.1 Z" fill="#ffffff" fill-opacity="1.00" filter="url(#b05)"/><path d="M134.9,98.6 L138.7,100.3 L143.1,105.0 L145.0,110.3 L143.5,110.8 L140.6,105.5 L135.5,100.3 Z" fill="#ffffff" fill-opacity="0.95" filter="url(#b05)"/><path d="M207.4,73.5 L207.4,60.2 L216.3,56.3 L226.5,54.0 L239.2,54.4 L244.3,55.9 L254.4,56.8 L267.2,57.3 L273.5,57.3 L273.5,73.5 L254.4,74.0 L229.0,73.5 Z" fill="#2010f4" fill-opacity="1.00" filter="url(#b1)"/><path d="M273.5,57.3 L277.3,53.5 L285.0,50.6 L292.6,50.1 L300.2,50.6 L307.9,52.5 L310.4,57.3 L307.9,62.1 L299.0,70.7 L286.2,74.5 L277.3,73.5 L273.5,73.5 Z" fill="#2010f4" fill-opacity="1.00" filter="url(#b1)"/><path d="M78.9,57.3 L101.8,58.3 L114.5,64.9 L127.2,76.4 L133.6,81.2 L124.7,79.3 L108.1,72.6 L91.6,66.8 L78.9,59.2 Z" fill="#0054ff" fill-opacity="0.80" filter="url(#b2)"/><path d="M70.0,40.1 L101.8,40.1 L101.8,59.2 L78.9,59.2 L70.0,49.7 Z" fill="#0054ff" fill-opacity="0.80" filter="url(#b2)"/><path d="M279.9,36.3 L400.8,36.3 L400.8,43.9 L279.9,43.9 Z" fill="#0034ff" fill-opacity="0.80" filter="url(#b2)"/><path d="M368.9,94.5 L427.5,94.5 L427.5,128.9 L368.9,128.9 Z" fill="#10b4ff" fill-opacity="0.90" filter="url(#b2)"/><g fill="#fff" fill-opacity="0.75"><circle cx="213.2" cy="72.4" r="0.92"/><circle cx="283.2" cy="58.2" r="0.65"/><circle cx="269.8" cy="59.7" r="0.79"/><circle cx="223.7" cy="64.0" r="0.70"/><circle cx="305.2" cy="61.2" r="0.72"/><circle cx="235.0" cy="73.6" r="0.51"/><circle cx="255.3" cy="66.7" r="0.69"/><circle cx="299.3" cy="61.7" r="0.78"/><circle cx="240.9" cy="71.2" r="0.76"/><circle cx="289.5" cy="56.6" r="0.95"/><circle cx="286.0" cy="55.3" r="0.68"/><circle cx="224.0" cy="56.1" r="0.86"/><circle cx="254.9" cy="61.6" r="0.75"/><circle cx="302.7" cy="62.3" r="0.92"/><circle cx="300.1" cy="63.3" r="0.78"/><circle cx="302.2" cy="56.9" r="0.74"/><circle cx="230.2" cy="66.6" r="0.85"/><circle cx="280.1" cy="62.2" r="0.76"/><circle cx="274.5" cy="60.2" r="0.66"/><circle cx="228.8" cy="62.0" r="0.97"/><circle cx="271.6" cy="72.7" r="0.91"/><circle cx="282.2" cy="52.4" r="0.60"/><circle cx="284.1" cy="73.1" r="0.83"/><circle cx="235.5" cy="69.0" r="0.94"/><circle cx="218.3" cy="61.8" r="0.93"/><circle cx="232.6" cy="69.4" r="0.94"/><circle cx="251.0" cy="57.0" r="0.52"/><circle cx="244.7" cy="70.3" r="0.84"/><circle cx="209.6" cy="68.3" r="0.91"/><circle cx="223.6" cy="70.0" r="0.85"/><circle cx="247.1" cy="73.4" r="1.00"/><circle cx="242.8" cy="59.5" r="0.87"/><circle cx="219.0" cy="66.3" r="0.52"/><circle cx="283.6" cy="52.5" r="0.88"/><circle cx="296.2" cy="57.3" r="0.74"/><circle cx="230.6" cy="58.4" r="0.66"/><circle cx="217.9" cy="63.6" r="0.94"/><circle cx="220.5" cy="60.2" r="0.70"/><circle cx="260.4" cy="71.0" r="0.98"/><circle cx="234.1" cy="59.7" r="0.71"/><circle cx="305.1" cy="55.0" r="0.78"/><circle cx="312.5" cy="54.2" r="0.63"/><circle cx="300.5" cy="52.2" r="0.73"/><circle cx="309.8" cy="52.2" r="0.84"/><circle cx="313.2" cy="51.9" r="0.86"/><circle cx="315.3" cy="53.8" r="0.63"/><circle cx="315.7" cy="54.5" r="0.75"/><circle cx="300.9" cy="51.9" r="0.84"/><circle cx="314.9" cy="51.8" r="0.96"/><circle cx="319.0" cy="56.4" r="1.00"/><circle cx="309.3" cy="51.2" r="1.04"/><circle cx="309.1" cy="54.2" r="0.75"/></g></g><path d="M300.2,63.0 L307.9,62.1 L315.5,62.6 L320.6,65.9 L318.1,70.7 L310.4,72.1 L302.8,70.7 L300.2,66.8 Z" fill="#ffffff" fill-opacity="0.9" filter="url(#b1)"/><use href="#water" fill="url(#ocC)"/><use href="#lakes" fill="#101060"/></g><use href="#grl" fill="#fff"/><use href="#ant" fill="#fff"/><g stroke-width="1.3" stroke-dasharray="11.3,6.2,2.3,6.2" fill="none"><use href="#grid" stroke="#000" stroke-opacity="0.3" clip-path="url(#clipC)"/><use href="#grid" stroke="#8a8a8a" clip-path="url(#wclipC)"/></g><use href="#coast" fill="none" stroke="#151515" stroke-width="1.5" stroke-linejoin="round"/><use href="#coast" fill="none" stroke="#000" stroke-width="2.3" stroke-linejoin="round" clip-path="url(#clipC)"/><path d="M38.8,102.8 h0.01 M455.5,102.9 h0.01 M440.8,107.0 h0.01 M10.4,99.1 h0.01 M432.4,95.0 h0.01 M433.2,94.5 h0.01 M426.8,92.2 h0.01 M428.7,93.6 h0.01 M302.2,105.2 h0.01 M299.6,106.0 h0.01 M322.5,82.1 h0.01 M113.9,86.4 h0.01 M207.4,58.9 h0.01 M198.5,70.7 h0.01 M196.6,49.9 h0.01 M146.6,55.1 h0.01 M151.4,72.1 h0.01 M150.8,75.9 h0.01 M400.1,78.8 h0.01 M413.5,71.6 h0.01 M413.1,73.2 h0.01 M440.8,67.5 h0.01 M127.2,118.0 h0.01 M221.7,101.1 h0.01 M210.7,93.5 h0.01 M213.4,121.4 h0.01 M277.1,130.6 h0.01 M294.9,130.3 h0.01 M317.4,133.0 h0.01 M322.5,136.6 h0.01 M153.9,135.3 h0.01 M182.6,137.8 h0.01 M440.2,134.3 h0.01" stroke="#000" stroke-width="1.6" stroke-linecap="round"/></g><rect x="16.8" y="222.3" width="467.6" height="175.5" fill="none" stroke="#9a9a9a" stroke-width="2"/><text x="27.4" y="241.2" font-family="Liberation Sans, sans-serif" font-size="19.5" fill="#1a1a1a" textLength="12" lengthAdjust="spacingAndGlyphs">C</text><g transform="translate(546.70,224.60)" filter="url(#soft)"><g clip-path="url(#clipD)"><rect x="0" y="0" width="458.00" height="171.90" fill="url(#ocD)"/><g clip-path="url(#landclip)"><rect x="0" y="0" width="458.00" height="171.90" fill="url(#ldD)"/><path d="M320.6,49.9 L324.4,49.4 L330.8,49.9 L338.4,50.3 L346.0,50.6 L352.4,51.1 L356.9,52.0 L359.1,54.0 L358.1,56.8 L354.3,58.3 L347.3,58.6 L339.7,58.7 L333.3,57.8 L328.9,55.9 L325.1,53.5 L321.9,51.1 Z" fill="#ffffff" fill-opacity="1.00" filter="url(#b05)"/><path d="M134.9,98.6 L138.7,100.3 L143.1,105.0 L145.0,110.3 L143.5,110.8 L140.6,105.5 L135.5,100.3 Z" fill="#ffffff" fill-opacity="0.95" filter="url(#b05)"/><path d="M207.4,73.5 L207.4,60.2 L216.3,56.3 L226.5,54.0 L239.2,54.4 L244.3,55.9 L254.4,56.8 L267.2,57.3 L273.5,57.3 L273.5,73.5 L254.4,74.0 L229.0,73.5 Z" fill="#0054ff" fill-opacity="0.90" filter="url(#b1)"/><path d="M273.5,57.3 L277.3,53.5 L285.0,50.6 L292.6,50.1 L300.2,50.6 L307.9,52.5 L310.4,57.3 L307.9,62.1 L299.0,70.7 L286.2,74.5 L277.3,73.5 L273.5,73.5 Z" fill="#0064ff" fill-opacity="0.90" filter="url(#b1)"/><path d="M241.7,100.3 L282.4,100.3 L282.4,120.3 L241.7,120.3 Z" fill="#086cff" fill-opacity="0.80" filter="url(#b2)"/><path d="M368.9,94.5 L427.5,94.5 L427.5,128.9 L368.9,128.9 Z" fill="#086cff" fill-opacity="0.90" filter="url(#b2)"/></g><use href="#water" fill="url(#ocD)"/><path d="M291.7,97.4 L293.2,100.8 L292.0,102.7 L290.1,107.0 L288.8,109.8 L286.2,110.3 L284.6,108.4 L285.0,105.0 L285.4,101.7 L288.2,100.8 L290.1,98.8 L291.7,97.4 Z" fill="url(#ocD)"/><use href="#lakes" fill="#101060"/></g><use href="#grl" fill="#fff"/><use href="#ant" fill="#fff"/><g stroke-width="1.3" stroke-dasharray="11.3,6.2,2.3,6.2" fill="none"><use href="#grid" stroke="#000" stroke-opacity="0.3" clip-path="url(#clipD)"/><use href="#grid" stroke="#8a8a8a" clip-path="url(#wclipD)"/></g><use href="#coast" fill="none" stroke="#151515" stroke-width="1.5" stroke-linejoin="round"/><use href="#coast" fill="none" stroke="#000" stroke-width="2.3" stroke-linejoin="round" clip-path="url(#clipD)"/><path d="M38.8,102.8 h0.01 M455.5,102.9 h0.01 M440.8,107.0 h0.01 M10.4,99.1 h0.01 M432.4,95.0 h0.01 M433.2,94.5 h0.01 M426.8,92.2 h0.01 M428.7,93.6 h0.01 M302.2,105.2 h0.01 M299.6,106.0 h0.01 M322.5,82.1 h0.01 M113.9,86.4 h0.01 M207.4,58.9 h0.01 M198.5,70.7 h0.01 M196.6,49.9 h0.01 M146.6,55.1 h0.01 M151.4,72.1 h0.01 M150.8,75.9 h0.01 M400.1,78.8 h0.01 M413.5,71.6 h0.01 M413.1,73.2 h0.01 M440.8,67.5 h0.01 M127.2,118.0 h0.01 M221.7,101.1 h0.01 M210.7,93.5 h0.01 M213.4,121.4 h0.01 M277.1,130.6 h0.01 M294.9,130.3 h0.01 M317.4,133.0 h0.01 M322.5,136.6 h0.01 M153.9,135.3 h0.01 M182.6,137.8 h0.01 M440.2,134.3 h0.01" stroke="#000" stroke-width="1.6" stroke-linecap="round"/></g><rect x="542.6" y="222.3" width="467.6" height="175.5" fill="none" stroke="#9a9a9a" stroke-width="2"/><text x="552.9" y="241.2" font-family="Liberation Sans, sans-serif" font-size="19.5" fill="#1a1a1a" textLength="12" lengthAdjust="spacingAndGlyphs">D</text></svg>
<div class="cb"></div>
<div class="t" style="left:427px;top:461.6px;letter-spacing:0.9px;word-spacing:5px">X<span style="font-size:8.6px;font-weight:bold;position:relative;top:3px;letter-spacing:0.3px;margin-left:0.5px">CO2</span> Error (ppm)</div>
<div class="t" style="left:239px;top:502.3px;letter-spacing:0.6px">0.1</div>
<div class="t" style="left:503px;top:502.3px;letter-spacing:0.6px">1.0</div>
<div class="t" style="left:752px;top:502.3px;letter-spacing:1.1px">10.0</div>
</body></html>
